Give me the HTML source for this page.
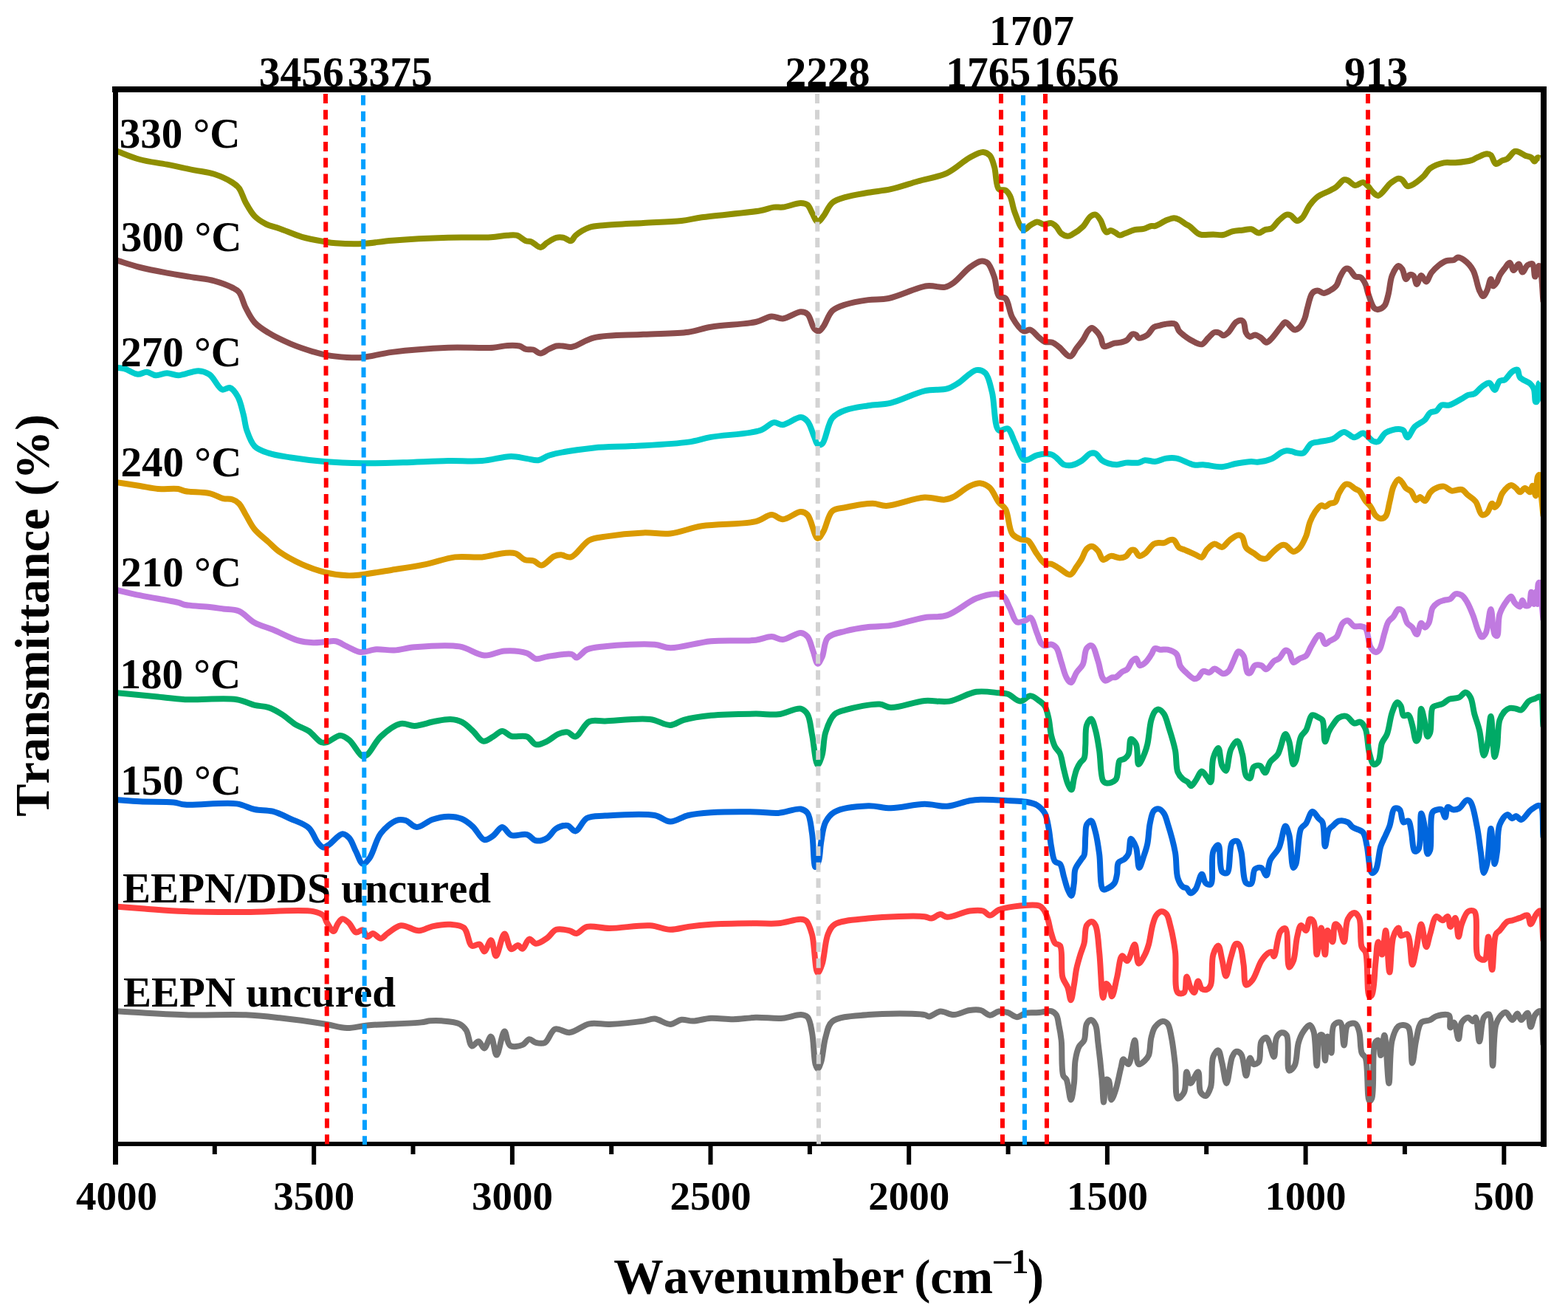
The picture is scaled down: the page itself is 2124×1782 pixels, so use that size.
<!DOCTYPE html>
<html><head><meta charset="utf-8"><title>FTIR spectra</title>
<style>html,body{margin:0;padding:0;background:#fff;}svg{display:block;}text{font-family:"Liberation Serif","Times New Roman",serif;font-weight:bold;fill:#000;font-kerning:none;}</style></head><body>
<svg width="2124" height="1782" viewBox="0 0 2124 1782">
<rect x="0" y="0" width="2124" height="1782" fill="#fff"/>
<g fill="none" stroke-width="8" stroke-linejoin="round" stroke-linecap="butt">
<path d="M156.0,203.8C167.2,207.9 178.0,212.9 189.6,216.0C201.4,219.2 213.8,220.3 226.0,222.7C238.2,225.1 251.4,228.0 262.8,230.3C272.6,232.3 281.5,233.0 290.2,235.8C298.7,238.6 308.6,243.2 314.6,247.0C318.6,249.5 321.0,251.2 323.7,254.7C327.4,259.5 329.4,268.2 332.9,274.5C336.5,280.9 340.2,287.9 345.0,292.8C349.4,297.3 354.8,300.6 360.3,303.4C365.9,306.2 371.8,307.1 378.6,309.5C387.5,312.6 398.7,317.8 409.0,320.8C419.1,323.7 431.0,325.7 439.5,327.2C445.4,328.2 448.6,328.8 454.8,329.3C464.4,330.0 479.0,330.6 491.4,330.0C504.4,329.4 515.6,326.9 531.0,325.7C552.3,324.0 583.6,322.4 607.2,321.7C627.8,321.1 650.1,322.1 664.9,321.2C674.2,320.6 681.0,319.1 687.4,318.7C692.2,318.4 695.9,317.6 699.9,318.7C704.2,319.9 708.6,324.8 712.4,326.2C715.1,327.2 717.2,326.4 719.9,327.4C723.6,328.8 728.6,335.0 732.3,334.9C735.5,334.8 737.8,330.7 741.1,328.7C744.8,326.4 749.5,322.8 753.6,321.8C757.0,320.9 760.3,321.1 763.5,321.8C766.9,322.5 770.7,326.8 773.5,326.2C776.1,325.6 776.9,321.2 779.8,318.7C784.1,315.1 791.7,310.3 798.3,308.0C804.9,305.7 810.9,305.9 819.6,305.0C833.1,303.7 854.1,302.9 871.4,301.9C888.7,300.9 908.7,300.5 923.2,298.9C933.8,297.7 939.1,295.9 950.7,294.3C970.3,291.5 1012.8,288.3 1029.9,285.2C1038.2,283.7 1042.7,281.3 1048.2,280.6C1052.6,280.1 1055.7,281.1 1060.4,280.6C1067.2,279.8 1078.6,275.0 1084.8,275.1C1088.6,275.2 1091.5,275.6 1093.9,277.5C1096.7,279.7 1097.8,284.5 1100.0,288.2C1102.4,292.2 1104.8,300.1 1107.6,300.4C1110.0,300.7 1112.6,296.1 1115.3,292.8C1119.1,288.2 1122.2,278.8 1127.5,274.5C1132.5,270.4 1138.7,269.0 1145.7,266.9C1154.4,264.2 1166.0,262.6 1176.2,260.8C1186.3,259.0 1196.2,258.5 1206.7,256.2C1218.4,253.6 1230.9,249.1 1243.3,245.5C1256.2,241.8 1271.0,239.9 1282.9,234.3C1294.2,229.0 1304.3,218.4 1313.4,213.5C1320.1,209.9 1326.7,205.7 1331.7,205.9C1335.3,206.0 1338.4,207.9 1340.8,210.5C1343.8,213.8 1345.1,219.7 1346.9,225.7C1349.4,234.0 1348.7,252.0 1353.0,256.2C1355.4,258.5 1359.6,256.2 1362.1,257.7C1364.7,259.2 1366.4,261.9 1368.2,265.3C1370.9,270.4 1371.5,279.5 1374.3,286.7C1377.4,294.7 1382.0,309.9 1386.5,311.1C1389.4,311.9 1392.6,306.8 1395.7,305.0C1398.7,303.3 1401.7,300.6 1404.8,300.4C1407.7,300.2 1410.6,303.5 1413.7,303.8C1417.0,304.1 1421.0,301.4 1424.0,302.1C1426.7,302.7 1428.8,304.8 1430.9,306.9C1433.4,309.4 1434.9,314.2 1437.7,316.3C1440.2,318.2 1443.6,319.7 1446.3,319.7C1448.7,319.7 1450.5,318.5 1453.1,317.1C1457.0,315.0 1462.9,310.9 1466.9,306.9C1470.9,302.9 1473.6,295.7 1477.1,293.1C1479.4,291.4 1481.9,290.1 1484.0,290.6C1486.5,291.2 1489.0,295.2 1490.9,298.3C1493.1,301.9 1494.2,308.3 1496.0,311.1C1497.1,312.8 1498.0,314.4 1499.4,314.6C1500.9,314.9 1502.8,312.0 1504.6,312.0C1506.7,312.0 1509.3,314.3 1511.4,315.4C1513.3,316.4 1514.7,318.3 1516.6,318.5C1518.7,318.7 1520.8,317.2 1523.4,316.3C1527.2,315.0 1532.6,312.2 1537.1,311.1C1541.2,310.1 1545.4,310.8 1549.2,309.9C1552.8,309.0 1556.5,306.5 1559.4,306.0C1561.4,305.6 1562.5,306.5 1564.6,306.0C1568.5,305.1 1575.3,300.2 1580.0,298.3C1583.7,296.8 1587.2,295.2 1590.3,295.2C1592.8,295.2 1594.9,296.3 1597.2,297.4C1600.0,298.7 1603.2,301.6 1605.7,303.1C1607.6,304.3 1608.9,304.6 1610.9,306.0C1614.2,308.3 1619.6,314.4 1622.9,316.3C1624.8,317.4 1625.8,317.7 1628.0,318.0C1631.7,318.5 1638.4,317.5 1643.4,317.5C1648.1,317.5 1652.8,318.7 1657.2,318.0C1661.4,317.3 1665.0,314.4 1669.2,313.4C1673.6,312.3 1678.5,312.2 1682.9,311.7C1687.0,311.2 1691.1,309.6 1694.9,310.3C1698.6,310.9 1701.9,315.4 1705.2,315.4C1708.2,315.4 1710.8,312.1 1713.7,311.1C1716.5,310.1 1719.5,310.9 1722.3,309.4C1725.9,307.4 1729.0,301.5 1732.6,298.3C1735.9,295.3 1739.9,291.3 1742.9,290.6C1744.8,290.1 1746.2,290.6 1748.0,291.4C1750.8,292.7 1754.2,298.9 1757.1,299.1C1759.5,299.3 1761.7,297.2 1764.0,294.9C1767.5,291.3 1770.6,282.6 1774.3,277.7C1777.5,273.4 1780.4,269.8 1784.6,266.6C1789.3,263.0 1797.0,260.6 1801.7,258.0C1805.1,256.1 1807.4,255.0 1810.3,252.9C1813.7,250.4 1817.6,244.3 1820.6,243.4C1822.4,242.9 1823.8,243.5 1825.7,244.3C1828.6,245.5 1832.5,250.8 1836.0,251.1C1839.3,251.4 1843.3,246.5 1846.3,246.9C1848.9,247.2 1850.9,249.9 1853.1,252.0C1855.5,254.4 1857.5,258.4 1860.0,260.6C1862.1,262.5 1864.2,265.2 1866.9,264.9C1871.5,264.4 1878.8,251.7 1884.0,247.7C1887.7,244.9 1891.4,242.0 1894.3,241.7C1896.2,241.5 1897.7,242.2 1899.4,243.4C1901.8,245.1 1903.9,251.1 1906.3,252.0C1907.9,252.6 1909.3,252.0 1911.4,251.1C1915.6,249.3 1924.0,242.6 1928.6,238.3C1932.2,234.9 1933.3,230.8 1937.2,228.0C1942.0,224.5 1949.9,221.5 1956.0,220.3C1961.3,219.3 1965.8,220.7 1971.4,220.3C1978.2,219.8 1988.5,218.6 1993.7,216.9C1996.8,215.9 1997.9,214.6 2000.6,213.4C2004.4,211.8 2010.8,208.4 2014.3,208.3C2016.4,208.3 2017.9,208.7 2019.5,210.0C2022.1,212.1 2023.4,221.2 2026.3,222.0C2028.7,222.7 2032.2,218.6 2034.9,217.4C2037.3,216.4 2039.4,216.5 2041.7,215.1C2045.0,213.1 2048.9,205.9 2052.0,204.9C2053.9,204.3 2055.3,205.0 2057.2,205.7C2059.8,206.6 2062.8,209.2 2065.7,210.5C2068.5,211.7 2072.1,211.9 2074.3,213.4C2076.2,214.7 2077.2,218.6 2078.6,218.6C2080.0,218.6 2081.4,213.9 2082.9,213.4C2084.0,213.0 2085.2,214.0 2086.3,214.3" stroke="#8f8f00"/>
<path d="M156.1,351.9C167.3,355.3 178.1,359.1 189.6,362.0C201.5,365.0 214.0,367.3 226.2,369.6C238.4,371.9 251.5,373.8 262.8,375.7C272.6,377.3 281.4,378.0 290.2,380.3C298.7,382.6 308.6,386.3 314.6,389.4C318.5,391.4 321.0,392.3 323.7,395.5C327.6,400.2 329.3,410.0 332.9,416.9C336.4,423.8 339.9,431.1 345.0,436.7C350.1,442.3 356.2,446.0 363.3,450.4C372.0,455.7 383.5,461.2 393.8,465.6C403.8,469.8 415.4,473.6 424.3,476.3C431.1,478.3 435.8,479.7 442.6,480.9C450.8,482.4 461.4,483.4 470.0,483.9C477.6,484.3 483.2,484.6 491.4,483.9C502.6,482.9 515.6,478.9 531.0,476.9C552.2,474.2 583.2,471.8 607.2,470.8C628.6,469.9 653.5,471.9 668.1,470.8C676.4,470.2 681.2,468.2 687.4,467.9C693.0,467.6 699.1,467.4 703.6,468.5C707.1,469.4 709.3,472.1 712.4,472.9C715.5,473.7 719.1,472.6 722.3,473.5C725.7,474.4 728.9,478.5 732.3,478.5C735.8,478.5 739.4,474.7 743.0,473.0C746.5,471.4 750.2,469.2 753.6,468.5C756.6,467.9 759.1,468.3 762.3,468.5C766.1,468.7 769.9,470.5 774.8,469.8C782.7,468.6 792.3,460.3 804.4,457.4C822.0,453.2 849.6,454.1 871.4,452.8C892.2,451.6 915.6,452.0 932.4,449.7C944.4,448.0 950.9,444.7 962.9,442.7C979.7,439.9 1008.8,439.4 1023.8,436.0C1032.9,433.9 1038.6,428.9 1045.2,428.4C1050.6,428.0 1054.8,431.9 1060.4,431.4C1067.7,430.8 1078.6,422.4 1084.8,422.3C1088.6,422.2 1091.3,423.0 1093.9,425.4C1097.9,429.0 1099.7,441.7 1103.1,445.2C1105.0,447.2 1107.3,448.5 1109.2,448.2C1111.4,447.8 1113.1,444.9 1115.3,442.1C1119.0,437.3 1122.1,425.8 1127.5,420.8C1132.4,416.2 1138.7,414.5 1145.7,412.2C1154.4,409.3 1166.3,407.5 1176.2,406.1C1185.6,404.8 1193.2,406.1 1203.7,404.0C1218.4,401.1 1241.3,389.1 1255.5,387.3C1265.0,386.1 1273.2,390.1 1279.8,388.8C1284.7,387.8 1287.6,385.8 1292.0,382.7C1298.5,378.2 1306.6,367.4 1313.4,362.3C1318.6,358.4 1324.1,354.3 1328.6,353.7C1332.0,353.3 1335.1,354.0 1337.8,356.2C1341.7,359.5 1344.4,368.2 1346.9,375.1C1349.7,382.9 1349.1,396.7 1353.0,401.0C1355.4,403.6 1359.5,401.5 1362.1,404.0C1366.5,408.3 1367.0,422.3 1371.3,429.9C1375.3,436.9 1381.5,446.3 1386.5,448.2C1389.6,449.4 1392.6,445.8 1395.7,446.7C1399.7,447.9 1404.2,454.5 1407.8,457.4C1410.6,459.6 1412.5,461.8 1415.4,462.9C1418.4,464.0 1422.6,462.6 1425.7,463.7C1428.9,464.8 1431.1,467.2 1434.3,469.7C1438.8,473.1 1445.5,483.1 1449.7,482.6C1453.2,482.2 1455.4,475.1 1458.3,471.4C1461.2,467.7 1464.3,464.2 1466.9,460.3C1469.5,456.5 1471.3,451.2 1473.7,448.3C1475.4,446.3 1477.0,444.0 1478.9,444.0C1481.0,444.0 1483.7,447.0 1485.7,449.1C1487.8,451.3 1489.4,453.9 1490.9,456.9C1492.6,460.4 1492.8,467.5 1495.1,468.9C1496.7,469.9 1499.0,468.6 1501.1,468.0C1503.7,467.3 1506.8,465.3 1509.7,464.6C1512.5,463.9 1515.5,464.4 1518.3,463.7C1521.2,463.0 1524.4,462.1 1526.9,460.3C1529.6,458.4 1531.3,453.5 1533.7,452.6C1535.4,452.0 1537.5,452.6 1538.9,453.4C1540.4,454.2 1540.6,457.2 1542.3,457.7C1544.9,458.5 1550.9,455.8 1554.3,453.4C1557.8,451.0 1559.7,445.2 1562.9,443.1C1565.5,441.4 1568.7,441.3 1571.4,440.6C1573.8,439.9 1575.6,439.2 1578.3,438.9C1582.1,438.4 1588.8,437.0 1592.0,438.9C1594.8,440.6 1595.1,445.7 1597.2,448.3C1599.1,450.7 1601.4,452.3 1604.0,454.3C1607.0,456.6 1610.5,459.2 1614.3,461.1C1618.4,463.2 1624.2,467.1 1628.0,466.3C1631.5,465.6 1633.7,460.4 1636.6,457.7C1639.4,455.0 1642.3,450.9 1645.2,450.0C1647.4,449.3 1650.0,450.1 1652.0,450.9C1653.9,451.6 1655.3,454.3 1657.2,454.3C1659.3,454.3 1661.7,452.1 1664.0,450.0C1667.4,446.9 1670.8,438.9 1674.3,436.3C1676.6,434.6 1679.4,433.4 1681.2,433.7C1682.6,433.9 1683.7,434.8 1684.6,436.3C1686.4,439.1 1686.1,447.5 1688.0,450.9C1689.3,453.3 1691.2,455.6 1693.2,456.0C1695.2,456.4 1697.6,453.3 1700.0,453.4C1702.7,453.5 1706.0,455.9 1708.6,457.7C1711.1,459.4 1713.1,463.6 1715.4,463.7C1717.7,463.8 1719.8,461.0 1722.3,458.6C1726.3,454.7 1732.4,445.4 1736.0,441.4C1738.1,439.1 1739.0,436.4 1741.2,436.3C1744.4,436.2 1750.0,446.2 1753.7,446.6C1756.2,446.9 1758.6,445.0 1760.6,443.1C1763.3,440.5 1765.7,435.4 1767.4,431.1C1769.1,426.8 1769.4,422.4 1770.9,417.4C1772.7,411.2 1774.4,400.7 1777.7,396.9C1779.6,394.6 1782.2,393.5 1784.6,393.4C1787.3,393.3 1790.3,396.9 1793.1,396.9C1796.0,396.9 1798.9,395.0 1801.7,393.4C1804.7,391.7 1808.1,389.5 1810.3,386.6C1812.7,383.4 1813.4,378.4 1815.4,374.6C1817.4,370.9 1819.8,365.6 1822.3,364.3C1823.9,363.4 1825.7,363.5 1827.4,364.3C1830.2,365.6 1832.9,372.9 1836.0,374.6C1838.2,375.8 1840.8,374.2 1842.9,375.4C1845.6,377.0 1848.0,381.4 1849.7,384.9C1851.4,388.5 1851.5,392.4 1853.1,396.9C1855.2,402.9 1858.4,414.4 1861.7,417.4C1863.3,418.9 1865.0,419.3 1866.9,419.1C1869.4,418.8 1873.2,416.7 1875.4,414.0C1878.2,410.5 1879.0,404.4 1880.6,398.6C1882.6,391.2 1882.9,379.8 1885.7,372.9C1887.9,367.6 1891.6,360.4 1894.3,360.0C1896.1,359.7 1897.9,362.2 1899.4,364.3C1901.6,367.4 1902.5,377.6 1904.6,378.0C1906.1,378.3 1907.8,372.5 1909.7,372.0C1911.3,371.6 1913.5,372.3 1914.9,373.7C1917.0,375.7 1917.5,384.8 1919.2,384.9C1921.0,385.0 1922.9,373.1 1925.2,372.9C1927.2,372.7 1929.8,381.6 1932.0,381.4C1934.4,381.2 1936.1,373.1 1938.9,369.4C1941.8,365.6 1945.6,361.9 1949.2,359.1C1952.5,356.6 1955.9,354.3 1959.4,353.1C1962.7,352.0 1966.9,352.9 1969.7,351.9C1971.8,351.1 1972.9,348.7 1974.9,348.5C1977.3,348.3 1980.6,350.2 1983.4,352.3C1987.4,355.2 1992.2,360.2 1995.4,366.0C1999.5,373.2 2001.0,387.2 2004.0,393.4C2005.7,396.9 2007.5,401.1 2009.2,401.1C2010.9,401.1 2012.8,396.5 2014.3,393.4C2016.3,389.3 2017.9,378.0 2019.5,378.0C2020.7,378.0 2021.4,387.1 2022.9,387.4C2024.3,387.6 2026.6,383.7 2028.0,381.4C2029.5,378.9 2029.8,375.7 2031.4,372.9C2033.2,369.7 2035.9,366.3 2038.3,363.4C2040.5,360.6 2043.2,355.4 2045.2,355.7C2047.3,356.0 2048.3,365.8 2050.3,366.0C2052.3,366.2 2055.2,357.2 2057.2,357.4C2059.3,357.7 2060.3,368.4 2062.3,368.6C2064.3,368.8 2066.5,360.9 2069.2,359.1C2071.3,357.7 2074.3,356.3 2076.0,357.4C2078.6,359.1 2077.9,374.5 2079.4,374.6C2080.8,374.7 2083.1,360.3 2084.6,360.0C2085.2,359.9 2085.8,360.8 2086.3,362.0C2088.5,367.3 2089.1,393.3 2090.5,409.0" stroke="#8b4c4c"/>
<path d="M156.1,497.6C160.2,498.1 163.9,498.0 168.3,499.2C173.9,500.7 181.1,506.4 186.6,506.8C191.0,507.1 194.8,503.5 198.8,503.7C202.9,503.9 206.7,508.0 211.0,508.3C215.7,508.7 221.1,505.2 226.2,505.2C231.3,505.2 235.6,508.3 241.4,508.3C249.2,508.2 261.1,501.8 268.9,502.2C274.8,502.5 279.3,504.1 284.1,507.4C290.2,511.6 295.4,525.6 300.9,527.5C304.5,528.7 308.2,524.0 311.5,525.1C315.5,526.4 319.3,532.1 322.2,537.2C325.8,543.6 327.7,553.7 329.8,561.6C331.7,568.9 332.0,576.0 334.4,583.0C336.9,590.3 339.9,599.2 345.0,604.3C349.7,609.0 356.2,611.0 363.3,613.4C372.0,616.4 382.6,617.7 393.8,619.5C407.5,621.7 423.8,623.7 439.5,625.0C456.2,626.4 473.9,627.0 491.4,627.2C509.4,627.4 527.4,626.8 546.2,626.3C566.0,625.8 588.3,624.4 607.2,624.1C623.5,623.8 638.3,625.2 652.9,624.1C666.6,623.0 681.3,618.1 692.5,618.0C700.7,618.0 707.4,620.2 713.9,621.1C719.4,621.9 724.1,623.9 729.1,623.2C734.3,622.5 737.4,618.6 744.3,616.5C757.5,612.5 785.1,608.6 804.4,606.5C822.2,604.6 837.3,605.2 856.2,604.1C879.2,602.7 912.8,601.4 932.4,598.6C944.9,596.8 950.7,594.1 962.9,591.9C980.8,588.7 1014.9,588.0 1029.9,582.8C1038.3,579.9 1042.6,572.9 1048.2,572.1C1052.5,571.5 1055.7,575.5 1060.4,575.2C1067.2,574.7 1078.7,564.6 1084.8,565.1C1088.7,565.4 1091.3,567.6 1093.9,570.6C1097.8,575.1 1100.5,586.2 1103.1,591.9C1104.8,595.8 1105.4,600.4 1107.6,601.7C1109.2,602.6 1111.7,602.6 1113.7,601.1C1118.6,597.4 1120.9,573.7 1127.5,566.0C1132.4,560.2 1138.6,558.0 1145.7,555.3C1154.3,552.0 1166.0,550.8 1176.2,549.2C1186.3,547.6 1195.7,548.2 1206.7,545.6C1220.6,542.4 1238.5,532.5 1252.4,529.4C1263.4,526.9 1274.7,528.8 1282.9,526.4C1289.0,524.6 1292.6,522.1 1298.1,518.8C1305.4,514.3 1315.5,502.2 1322.5,501.1C1327.1,500.4 1331.4,501.9 1334.7,505.1C1339.5,509.8 1341.1,520.8 1343.8,531.0C1347.5,545.2 1346.4,578.3 1353.0,582.8C1356.2,585.0 1361.9,578.7 1365.2,580.3C1369.4,582.3 1371.1,591.6 1374.3,598.0C1378.1,605.5 1382.3,619.8 1386.5,622.4C1388.5,623.6 1390.3,622.9 1392.6,622.4C1396.1,621.6 1400.1,617.5 1404.8,616.3C1410.3,614.9 1419.3,614.2 1424.0,615.4C1427.0,616.2 1428.5,617.8 1430.9,619.7C1434.1,622.1 1437.4,627.6 1441.1,629.2C1444.3,630.6 1447.8,630.6 1451.4,630.0C1455.7,629.3 1460.9,626.6 1465.1,624.0C1469.4,621.3 1473.4,615.4 1477.1,614.1C1479.5,613.2 1481.8,613.1 1484.0,614.1C1487.0,615.4 1489.5,620.9 1492.6,623.2C1495.3,625.2 1497.9,626.4 1501.1,627.4C1504.7,628.5 1509.1,629.3 1513.1,629.2C1517.1,629.1 1520.7,627.1 1525.1,626.6C1530.3,626.0 1537.6,627.5 1542.3,626.6C1545.7,625.9 1547.6,623.6 1550.9,623.2C1554.9,622.7 1559.9,625.2 1564.6,624.9C1569.6,624.5 1575.0,621.3 1580.0,620.6C1584.7,620.0 1588.6,619.7 1593.7,620.6C1600.7,621.9 1611.0,628.4 1617.7,629.5C1622.3,630.3 1625.0,629.0 1629.7,629.2C1636.7,629.5 1647.5,632.6 1655.4,632.2C1662.2,631.8 1667.8,629.0 1674.3,627.8C1681.0,626.6 1689.5,625.0 1694.9,624.9C1698.3,624.8 1700.0,625.9 1703.4,625.7C1708.5,625.4 1716.7,623.8 1722.3,621.4C1727.5,619.2 1732.1,614.2 1736.0,612.4C1738.6,611.2 1740.6,610.5 1742.9,610.3C1745.2,610.1 1747.4,610.6 1749.7,611.1C1752.1,611.6 1754.5,613.0 1757.1,613.4C1759.8,613.8 1763.0,614.7 1765.7,613.4C1769.4,611.6 1772.1,603.4 1776.0,600.9C1779.1,598.9 1782.3,599.2 1786.3,598.3C1791.6,597.1 1799.3,596.8 1805.1,594.5C1810.7,592.3 1815.6,585.0 1820.6,584.9C1825.3,584.8 1829.9,592.2 1834.3,592.3C1838.4,592.4 1842.9,586.3 1846.3,586.6C1849.0,586.8 1850.9,589.6 1853.1,591.4C1855.4,593.2 1857.5,596.4 1860.0,597.4C1862.2,598.3 1864.6,598.9 1866.9,597.9C1870.3,596.5 1872.7,588.7 1877.1,585.9C1881.7,582.9 1889.9,581.1 1894.3,581.1C1897.1,581.1 1899.2,581.4 1901.1,582.9C1903.4,584.7 1904.2,592.2 1906.3,592.3C1909.1,592.5 1912.5,581.7 1916.6,577.7C1920.6,573.8 1926.7,571.8 1930.3,568.3C1933.3,565.4 1934.4,560.9 1937.2,558.9C1939.6,557.2 1943.2,557.9 1945.7,556.3C1948.4,554.6 1949.7,549.9 1952.6,548.6C1955.5,547.3 1959.2,549.5 1962.9,548.6C1968.0,547.4 1975.3,542.6 1980.0,540.0C1983.4,538.1 1985.6,536.1 1988.6,534.9C1991.4,533.8 1994.4,534.5 1997.2,533.1C2000.7,531.3 2003.8,526.2 2007.4,523.7C2010.7,521.5 2014.8,517.9 2017.7,518.6C2020.6,519.3 2022.4,528.1 2024.6,528.0C2027.0,527.9 2028.6,518.1 2031.4,516.0C2033.4,514.5 2036.0,515.7 2038.3,514.3C2041.7,512.3 2045.3,505.3 2048.6,503.1C2050.9,501.6 2053.7,499.8 2055.4,500.6C2057.5,501.6 2056.6,508.0 2058.9,510.9C2061.7,514.5 2069.3,516.4 2072.6,519.4C2075.0,521.6 2076.4,523.3 2077.7,526.3C2079.5,530.7 2078.7,543.8 2080.3,544.3C2081.0,544.5 2082.2,543.2 2082.9,541.7C2084.6,538.0 2083.2,522.5 2084.6,519.4C2085.1,518.4 2085.7,518.3 2086.3,517.7" stroke="#00cccc"/>
<path d="M156.1,652.9C167.3,654.6 179.3,656.4 189.6,658.0C198.4,659.4 205.6,661.3 214.0,662.0C222.8,662.7 234.8,660.9 241.4,662.0C245.3,662.6 246.5,664.2 250.6,665.0C258.2,666.6 274.7,665.9 284.1,668.1C291.2,669.8 296.8,673.8 302.4,675.1C306.8,676.1 311.0,675.1 314.6,676.3C318.0,677.4 321.0,679.1 323.7,681.8C327.2,685.3 329.6,691.6 332.9,697.0C336.7,703.2 340.0,710.9 345.0,716.9C350.1,723.1 357.5,728.3 363.3,733.6C368.6,738.4 372.3,742.8 378.6,747.3C386.8,753.1 398.7,759.5 409.0,764.1C419.0,768.6 429.2,772.3 439.5,774.8C449.5,777.3 461.6,778.8 470.0,779.3C476.0,779.6 478.9,779.3 485.3,778.7C496.5,777.6 515.8,774.1 531.0,771.7C546.2,769.3 562.1,767.1 576.7,764.1C590.4,761.3 603.3,756.0 616.3,754.4C628.6,752.9 641.3,755.4 652.9,754.4C663.6,753.4 675.0,749.5 683.4,748.9C689.3,748.5 694.0,748.0 698.6,749.5C703.1,751.0 706.5,756.4 710.8,758.0C714.7,759.5 719.2,758.2 723.0,759.5C726.8,760.8 729.8,765.8 733.7,765.6C738.7,765.3 745.4,755.7 750.4,753.4C753.7,751.9 756.2,751.3 759.6,751.3C763.7,751.3 768.4,755.7 773.3,754.4C780.9,752.4 789.7,736.0 798.3,731.5C805.2,727.9 810.9,728.0 819.6,726.6C833.0,724.4 855.6,722.0 871.4,721.4C884.6,720.9 895.4,723.7 908.0,722.4C921.8,721.0 934.5,714.9 950.7,712.3C971.7,709.0 1006.9,710.4 1023.8,706.2C1033.3,703.8 1038.7,697.2 1045.2,697.1C1050.7,697.0 1054.7,703.2 1060.4,703.2C1067.6,703.2 1078.6,693.0 1084.8,693.1C1088.6,693.1 1091.1,694.2 1093.9,697.1C1099.2,702.4 1103.2,728.4 1107.6,729.1C1110.2,729.5 1112.7,724.0 1115.3,719.9C1119.4,713.3 1121.4,697.2 1127.5,691.9C1132.3,687.8 1138.5,688.5 1145.7,687.0C1155.7,684.9 1172.2,681.7 1182.3,681.8C1189.5,681.9 1193.0,685.1 1200.6,684.9C1213.5,684.6 1237.8,674.4 1252.4,673.6C1262.9,673.0 1272.6,677.3 1279.8,676.6C1284.7,676.1 1287.5,674.9 1292.0,672.7C1298.3,669.6 1306.6,661.4 1313.4,658.4C1318.7,656.0 1323.9,653.9 1328.6,654.4C1333.0,654.9 1337.1,657.2 1340.8,660.5C1345.6,664.9 1348.9,675.1 1353.0,680.3C1356.0,684.1 1359.5,684.9 1362.1,689.4C1366.4,696.7 1366.2,716.2 1371.3,723.0C1374.5,727.4 1379.6,729.1 1383.5,730.6C1386.6,731.8 1389.7,730.2 1392.6,732.1C1397.0,735.0 1400.7,745.0 1404.8,750.4C1408.3,755.1 1411.6,761.2 1415.4,763.1C1418.1,764.5 1421.1,762.9 1424.0,763.7C1427.4,764.7 1430.5,767.1 1434.3,769.2C1438.9,771.8 1445.6,778.9 1449.7,778.1C1453.3,777.4 1455.7,771.0 1458.3,767.4C1460.8,764.0 1462.9,760.8 1465.1,757.1C1467.5,752.9 1469.2,746.3 1472.0,743.4C1474.0,741.3 1476.5,739.5 1478.9,739.7C1481.6,739.9 1485.0,743.2 1487.4,746.0C1490.2,749.1 1491.2,757.1 1494.3,758.0C1497.1,758.8 1501.0,753.4 1504.6,752.9C1508.4,752.4 1512.9,755.4 1516.6,755.4C1519.7,755.4 1522.6,754.9 1525.1,753.4C1527.8,751.7 1529.6,746.2 1532.0,745.1C1533.7,744.3 1535.5,744.3 1537.1,745.1C1539.3,746.2 1540.8,752.3 1543.2,752.9C1545.4,753.4 1548.2,751.3 1550.9,749.4C1554.7,746.7 1559.2,738.8 1562.9,736.6C1565.3,735.2 1567.4,735.1 1569.7,734.9C1572.0,734.7 1574.2,735.7 1576.6,735.2C1579.4,734.6 1582.6,731.6 1585.2,731.1C1587.1,730.7 1588.7,730.5 1590.3,731.4C1592.8,732.8 1594.5,739.6 1597.2,741.7C1599.2,743.3 1601.3,743.2 1604.0,744.3C1608.1,746.0 1615.0,749.2 1619.4,751.1C1622.7,752.5 1625.5,755.4 1628.0,754.6C1630.8,753.7 1632.1,747.3 1634.9,744.3C1637.8,741.3 1641.6,737.0 1645.2,736.6C1648.5,736.2 1652.2,741.5 1655.4,740.9C1659.0,740.3 1662.0,734.1 1665.7,731.4C1669.4,728.7 1674.5,724.7 1677.7,724.6C1679.8,724.5 1681.4,725.5 1682.9,727.1C1685.3,729.8 1685.1,737.8 1688.0,741.7C1690.8,745.5 1696.6,747.8 1700.0,750.3C1702.6,752.2 1704.3,754.4 1706.9,755.4C1709.5,756.4 1712.9,757.2 1715.4,756.3C1718.1,755.4 1719.5,751.9 1722.3,749.4C1726.0,746.0 1732.3,739.6 1736.0,738.3C1738.0,737.6 1739.3,737.6 1741.2,738.3C1744.3,739.4 1748.5,746.7 1752.0,746.9C1755.0,747.1 1758.0,744.4 1760.6,741.7C1764.0,738.2 1766.8,731.8 1769.1,726.3C1771.5,720.5 1772.1,713.1 1774.3,707.4C1776.2,702.4 1778.4,697.7 1781.1,693.7C1783.6,690.1 1787.0,685.0 1789.7,684.3C1791.5,683.8 1793.1,686.2 1794.9,686.0C1797.1,685.7 1799.3,682.7 1801.7,681.7C1803.9,680.8 1806.7,681.6 1808.6,680.0C1811.1,677.9 1811.5,671.9 1813.7,668.0C1816.0,663.9 1819.4,657.5 1822.3,656.0C1824.0,655.1 1825.6,655.4 1827.4,656.0C1830.0,656.8 1833.5,660.5 1836.0,662.0C1837.9,663.1 1839.4,663.0 1841.1,664.6C1844.0,667.2 1846.8,674.5 1849.7,678.3C1852.0,681.3 1854.5,683.0 1856.6,686.0C1859.1,689.4 1860.7,695.2 1863.4,698.0C1865.5,700.1 1868.0,702.2 1870.3,702.3C1872.5,702.4 1875.3,701.1 1877.1,698.9C1880.0,695.4 1880.6,686.4 1882.3,680.0C1884.1,673.3 1885.0,664.9 1887.4,659.4C1889.3,655.2 1892.0,649.4 1894.3,649.1C1896.0,648.9 1897.8,651.6 1899.4,653.4C1901.3,655.5 1902.5,659.1 1904.6,661.1C1906.6,663.0 1909.4,663.3 1911.4,665.4C1914.1,668.2 1915.9,677.0 1918.3,677.4C1920.0,677.7 1921.5,673.2 1923.4,673.1C1925.5,673.0 1928.2,678.7 1930.3,678.3C1932.9,677.8 1934.9,669.9 1937.2,667.1C1938.9,665.1 1940.0,663.8 1942.3,662.5C1945.6,660.7 1951.9,658.1 1956.0,658.6C1959.8,659.1 1962.5,663.8 1966.3,664.6C1970.4,665.4 1976.2,661.7 1980.0,662.9C1983.5,664.0 1985.6,668.0 1988.6,670.6C1991.9,673.4 1996.0,675.3 1998.9,679.1C2002.5,683.7 2004.0,695.7 2007.4,697.1C2009.5,698.0 2012.3,696.4 2014.3,694.6C2017.2,692.1 2019.2,681.8 2021.2,681.7C2022.5,681.6 2023.3,686.8 2024.6,686.9C2026.1,687.0 2028.2,684.0 2029.7,681.7C2031.8,678.4 2032.2,672.0 2034.9,668.0C2037.8,663.7 2043.3,657.2 2046.9,656.9C2049.4,656.7 2051.7,659.5 2053.7,661.1C2055.6,662.6 2057.0,666.2 2058.9,666.3C2061.0,666.4 2063.4,661.1 2065.7,661.1C2068.0,661.1 2070.9,666.8 2072.6,666.3C2074.4,665.8 2074.9,657.7 2076.0,657.7C2077.4,657.8 2079.2,671.5 2080.3,671.4C2081.8,671.2 2081.0,649.7 2082.9,645.7C2083.6,644.2 2084.8,642.9 2085.4,643.1C2086.5,643.5 2085.9,649.8 2086.3,655.0C2087.2,665.0 2089.1,684.3 2090.5,699.0" stroke="#da9a00"/>
<path d="M156.1,798.5C167.3,801.1 178.2,803.8 189.6,806.2C201.5,808.7 216.6,811.1 226.2,812.9C232.4,814.1 237.0,814.7 241.4,815.9C244.9,816.8 246.5,818.1 250.6,819.0C258.2,820.6 274.6,820.9 284.1,822.0C291.1,822.8 296.1,823.6 302.4,824.5C309.2,825.4 316.9,824.7 323.7,827.5C331.2,830.6 337.3,839.1 345.0,843.3C352.6,847.4 360.7,849.0 369.4,852.5C379.8,856.7 392.9,864.2 403.0,867.1C410.7,869.3 417.8,869.9 424.3,870.2C429.8,870.4 434.4,869.6 439.5,869.3C444.6,869.0 449.8,867.4 454.8,868.3C460.0,869.3 464.7,873.0 470.0,875.3C475.8,877.9 481.9,882.3 488.3,883.0C495.0,883.8 502.2,879.8 509.6,879.3C517.4,878.8 525.6,880.9 534.0,880.5C542.9,880.0 550.5,877.2 561.5,876.3C577.8,874.9 605.3,872.5 622.4,875.4C635.5,877.6 645.3,886.8 656.0,887.5C665.5,888.1 674.0,882.0 683.4,881.4C693.2,880.8 706.3,881.9 713.9,884.5C719.1,886.3 721.6,891.3 726.0,892.1C730.6,893.0 735.2,890.0 741.3,889.1C750.3,887.8 768.3,884.2 774.8,886.0C777.9,886.9 778.4,890.6 780.9,890.6C784.7,890.6 789.4,882.1 795.2,879.5C802.0,876.5 809.4,876.3 819.6,875.2C836.4,873.4 870.6,871.4 886.7,872.8C895.8,873.6 899.2,877.1 908.0,877.3C922.0,877.6 944.1,870.0 962.9,868.2C982.6,866.3 1008.8,868.5 1023.8,866.7C1032.8,865.6 1038.7,862.0 1045.2,862.1C1050.7,862.2 1054.8,866.4 1060.4,866.1C1067.6,865.7 1078.7,856.4 1084.8,856.9C1088.7,857.2 1091.4,859.2 1093.9,862.1C1097.5,866.3 1099.1,875.6 1101.5,881.9C1103.7,887.7 1105.3,898.4 1107.6,898.7C1109.4,898.9 1111.8,893.5 1113.7,889.5C1116.6,883.2 1116.0,869.4 1121.4,863.6C1126.7,857.9 1137.0,856.9 1145.7,854.5C1155.2,851.9 1166.0,850.3 1176.2,849.0C1186.3,847.7 1195.6,848.6 1206.7,846.9C1220.5,844.8 1238.6,838.5 1252.4,836.2C1263.5,834.3 1272.4,836.5 1282.9,833.1C1295.7,829.0 1310.2,815.1 1322.5,810.3C1332.2,806.5 1343.3,803.9 1350.0,804.2C1353.9,804.4 1356.4,805.0 1359.1,807.2C1362.9,810.3 1365.2,818.3 1368.2,824.0C1371.3,829.9 1373.1,840.2 1377.4,842.3C1380.7,843.9 1386.3,841.2 1389.6,839.9C1392.1,838.9 1393.8,835.6 1395.7,836.2C1399.1,837.3 1402.2,851.2 1404.8,857.5C1406.9,862.5 1408.0,868.2 1410.3,871.1C1411.8,873.0 1413.4,874.2 1415.4,874.6C1417.8,875.0 1421.4,872.0 1424.0,872.5C1426.5,872.9 1428.9,874.6 1430.9,877.1C1434.0,881.1 1435.4,890.2 1437.7,896.9C1440.0,903.7 1441.8,912.6 1444.6,917.4C1446.4,920.5 1448.6,924.5 1450.6,924.3C1453.2,924.0 1455.5,914.8 1458.3,910.6C1461.0,906.6 1464.7,904.0 1466.9,899.4C1469.6,893.6 1469.0,882.0 1472.0,878.0C1473.8,875.6 1476.8,873.5 1478.9,874.2C1482.4,875.4 1485.0,887.9 1487.4,895.1C1489.8,902.3 1490.9,913.0 1493.4,917.4C1494.7,919.6 1495.9,921.4 1497.7,921.7C1500.0,922.1 1503.7,918.1 1506.3,917.4C1508.2,916.9 1509.6,917.8 1511.4,917.1C1514.1,916.0 1517.2,911.6 1520.0,909.7C1522.3,908.2 1524.8,908.2 1526.9,906.3C1529.6,903.8 1531.3,897.6 1533.7,895.1C1535.4,893.4 1537.4,891.3 1538.9,891.7C1540.9,892.2 1541.8,900.4 1544.0,901.1C1545.9,901.7 1548.7,899.5 1550.9,897.7C1553.9,895.2 1557.0,890.1 1559.4,886.6C1561.4,883.6 1562.3,878.9 1564.6,878.0C1566.5,877.2 1568.9,879.4 1571.4,879.7C1574.5,880.1 1578.2,878.9 1581.7,879.7C1585.7,880.6 1590.9,882.4 1593.7,885.7C1596.9,889.4 1596.5,897.8 1598.9,902.0C1600.8,905.3 1603.0,907.1 1605.7,909.7C1609.0,912.8 1614.4,918.6 1617.7,919.2C1619.7,919.5 1621.2,918.6 1622.9,917.4C1625.3,915.7 1626.9,909.9 1629.7,908.9C1632.2,908.0 1635.7,911.2 1638.3,910.6C1640.9,910.0 1642.5,905.6 1645.2,905.4C1648.6,905.2 1653.7,912.2 1657.2,912.3C1659.8,912.4 1662.0,910.9 1664.0,908.9C1666.8,906.1 1668.6,899.6 1670.9,895.1C1673.1,890.7 1675.1,882.8 1677.7,882.3C1679.8,881.9 1682.8,885.3 1684.6,888.3C1687.5,893.1 1687.1,908.0 1689.7,910.6C1690.7,911.6 1692.0,911.9 1693.2,911.4C1695.4,910.5 1697.1,902.7 1700.0,901.1C1702.4,899.8 1706.0,900.2 1708.6,901.1C1711.2,902.0 1713.0,906.5 1715.4,906.3C1718.6,906.0 1722.4,897.6 1725.7,895.1C1728.1,893.3 1730.4,893.5 1732.6,891.7C1735.6,889.2 1738.5,881.2 1741.2,880.6C1742.9,880.2 1744.8,881.5 1746.3,883.1C1748.7,885.7 1749.2,896.0 1752.0,896.9C1754.3,897.6 1757.7,893.2 1760.6,891.7C1763.4,890.3 1766.7,890.2 1769.1,888.0C1772.1,885.3 1773.4,879.7 1776.0,875.4C1779.0,870.5 1783.4,861.1 1786.3,860.0C1787.5,859.5 1788.6,860.0 1789.7,860.9C1791.7,862.6 1792.6,871.3 1794.9,872.0C1796.8,872.5 1799.3,869.2 1801.7,867.7C1804.4,866.1 1807.8,865.4 1810.3,862.6C1813.9,858.6 1815.5,847.2 1818.9,843.7C1821.0,841.6 1823.4,840.0 1825.7,840.3C1828.5,840.7 1831.2,846.8 1834.3,848.0C1837.0,849.0 1840.2,847.5 1842.9,848.0C1845.3,848.5 1847.8,848.5 1849.7,850.6C1853.3,854.6 1853.4,870.7 1856.6,876.3C1858.5,879.6 1861.2,882.9 1863.4,883.1C1865.2,883.3 1867.1,881.8 1868.6,879.7C1871.6,875.7 1873.2,864.1 1875.4,857.4C1877.2,851.8 1878.2,845.9 1880.6,842.0C1882.5,839.0 1885.2,837.7 1887.4,835.1C1889.8,832.1 1891.8,825.7 1894.3,824.9C1895.9,824.3 1897.9,825.2 1899.4,826.6C1902.3,829.3 1903.5,839.7 1906.3,843.7C1908.3,846.5 1911.0,847.3 1913.1,849.7C1915.4,852.4 1917.3,859.3 1919.2,859.1C1921.5,858.9 1922.9,844.1 1925.2,843.7C1926.8,843.4 1928.6,849.7 1930.3,849.7C1932.0,849.7 1933.9,846.5 1935.4,843.7C1937.8,839.1 1937.9,827.9 1940.6,823.1C1942.4,819.9 1944.8,818.0 1947.4,816.3C1949.9,814.6 1953.1,813.8 1956.0,812.9C1958.8,812.1 1962.1,812.5 1964.6,811.1C1967.2,809.7 1968.8,805.1 1971.4,804.3C1973.9,803.5 1977.5,804.5 1980.0,806.0C1982.8,807.7 1984.7,811.0 1986.9,814.6C1989.9,819.5 1992.9,826.9 1995.4,833.4C1998.0,840.0 1999.9,848.7 2002.3,854.0C2003.9,857.6 2005.5,862.4 2007.4,862.6C2009.0,862.8 2011.1,860.2 2012.6,857.4C2015.8,851.4 2017.5,824.8 2019.5,824.9C2021.5,825.0 2021.6,854.9 2024.6,859.1C2025.6,860.5 2027.1,861.4 2028.0,860.9C2030.6,859.5 2028.7,840.1 2031.4,831.7C2033.7,824.5 2038.6,817.1 2041.7,812.9C2043.5,810.5 2045.3,807.5 2046.9,807.7C2048.8,807.9 2049.9,814.0 2052.0,816.3C2054.0,818.5 2057.2,821.9 2058.9,821.4C2060.7,820.9 2061.1,812.9 2062.3,812.9C2063.4,812.9 2064.0,818.7 2065.7,819.7C2067.1,820.5 2069.6,820.8 2070.9,819.7C2073.4,817.6 2073.1,801.7 2074.3,801.7C2075.4,801.7 2076.7,818.0 2077.7,818.0C2078.7,818.0 2079.4,801.7 2080.3,801.7C2081.2,801.7 2082.3,818.0 2082.9,818.0C2083.6,818.0 2082.2,794.2 2083.7,790.6C2084.2,789.5 2085.0,788.8 2085.4,788.9C2086.1,789.1 2085.9,792.0 2086.3,795.0C2087.3,803.1 2089.1,825.0 2090.5,840.0" stroke="#c07ae0"/>
<path d="M156.1,938.1C174.4,939.8 194.2,941.7 211.0,943.3C225.3,944.7 235.5,946.5 250.6,947.2C270.6,948.2 303.5,944.5 320.7,947.2C331.1,948.8 337.4,953.1 345.0,954.9C351.5,956.4 357.3,956.0 363.3,957.9C369.6,959.9 375.7,963.4 381.6,967.1C387.9,971.0 393.6,976.9 399.9,980.8C405.8,984.5 412.5,986.0 418.2,989.9C424.2,994.0 430.2,1003.2 435.0,1005.1C437.8,1006.2 439.6,1005.8 442.6,1005.1C447.5,1004.0 455.4,996.0 460.9,996.0C465.4,996.0 469.0,998.8 473.1,1002.1C479.1,1006.9 486.5,1023.2 491.4,1024.4C493.7,1025.0 495.2,1023.7 497.5,1021.9C502.4,1018.1 508.3,1004.4 515.7,997.5C523.4,990.3 534.6,981.7 543.2,979.9C549.6,978.6 554.8,983.1 561.5,982.9C569.7,982.7 580.3,978.3 588.9,976.8C596.4,975.5 603.7,973.8 610.2,974.1C615.7,974.4 620.7,975.3 625.5,977.7C630.9,980.3 635.9,985.6 640.7,989.9C645.5,994.2 649.5,1002.7 654.4,1003.6C658.7,1004.4 663.7,999.8 668.1,997.5C672.4,995.2 676.2,990.0 680.3,989.9C684.3,989.8 687.7,995.5 692.5,996.9C698.5,998.6 708.1,995.2 713.9,997.5C718.9,999.5 721.4,1007.2 726.0,1008.2C730.6,1009.2 736.4,1005.9 741.3,1003.6C746.5,1001.2 751.5,995.9 756.5,993.9C760.6,992.2 764.9,990.8 768.7,991.4C772.5,992.0 775.6,998.1 779.4,997.5C785.1,996.6 791.0,980.3 798.3,977.0C804.7,974.1 810.7,976.7 819.6,976.4C834.7,975.9 864.4,972.0 880.6,974.0C891.7,975.3 899.8,982.2 908.0,981.9C914.8,981.6 919.0,976.9 926.3,974.9C936.3,972.2 949.1,970.2 962.9,968.8C980.6,967.0 1007.0,966.7 1023.8,966.6C1035.7,966.5 1044.2,968.4 1054.3,967.3C1064.5,966.1 1077.9,958.0 1084.8,959.6C1089.1,960.6 1091.5,963.4 1093.9,967.3C1097.5,973.3 1097.9,984.6 1100.0,994.7C1102.5,1007.0 1104.5,1035.4 1107.6,1035.8C1109.4,1036.0 1112.1,1027.7 1113.7,1022.1C1116.0,1014.1 1115.3,1001.0 1118.3,991.6C1121.1,982.8 1125.0,972.3 1130.5,967.3C1134.7,963.4 1139.1,963.0 1145.7,961.2C1156.7,958.1 1180.4,952.8 1191.5,953.5C1198.0,953.9 1200.2,957.8 1206.7,958.1C1217.8,958.6 1238.3,950.3 1252.4,949.0C1264.4,947.9 1274.6,951.4 1285.9,949.6C1298.0,947.7 1310.7,938.5 1322.5,936.8C1333.0,935.3 1345.1,937.6 1353.0,938.3C1358.0,938.7 1361.0,938.4 1365.2,939.8C1370.5,941.6 1376.7,949.5 1382.0,949.6C1386.8,949.7 1391.3,942.3 1395.7,942.3C1399.9,942.3 1404.4,946.5 1407.8,949.0C1410.8,951.2 1413.4,953.0 1415.4,956.3C1418.0,960.6 1419.2,967.3 1420.6,973.4C1422.2,980.3 1422.4,989.0 1424.0,995.7C1425.4,1001.4 1426.9,1006.7 1429.1,1011.1C1431.0,1014.8 1434.1,1016.6 1436.0,1020.6C1438.5,1026.1 1439.3,1035.1 1441.1,1042.0C1442.8,1048.5 1444.2,1056.0 1446.3,1060.9C1447.8,1064.4 1450.0,1069.6 1451.4,1069.4C1453.1,1069.1 1453.7,1058.8 1454.9,1054.0C1456.0,1049.7 1456.8,1045.7 1458.3,1042.0C1459.7,1038.6 1461.5,1035.3 1463.4,1032.6C1465.0,1030.3 1467.4,1029.4 1468.6,1026.6C1470.4,1022.5 1469.8,1015.8 1470.3,1009.4C1470.9,1001.3 1469.8,988.4 1472.0,982.0C1473.4,978.1 1476.2,973.2 1478.0,973.4C1480.3,973.7 1482.3,982.9 1484.0,988.9C1486.2,996.7 1487.5,1006.2 1489.1,1016.3C1491.0,1028.6 1490.6,1051.7 1494.3,1057.4C1495.7,1059.6 1497.3,1060.3 1499.4,1060.5C1502.5,1060.8 1508.8,1058.9 1511.4,1055.7C1514.6,1051.8 1513.9,1041.6 1514.9,1036.9C1515.5,1034.0 1515.2,1031.6 1516.6,1030.0C1518.0,1028.4 1521.4,1028.8 1523.4,1027.4C1525.5,1026.0 1527.3,1024.2 1528.6,1021.4C1530.8,1016.8 1529.5,1001.7 1532.0,1000.9C1533.7,1000.4 1537.2,1004.3 1538.9,1007.7C1541.8,1013.5 1539.9,1034.6 1542.3,1035.1C1544.0,1035.4 1547.3,1027.5 1549.2,1023.1C1551.3,1018.4 1552.8,1013.9 1554.3,1007.7C1556.4,998.9 1557.1,983.2 1559.4,975.1C1560.9,970.0 1562.4,965.5 1564.6,963.1C1566.1,961.6 1568.0,960.4 1569.7,960.6C1571.9,960.9 1574.6,963.7 1576.6,966.6C1579.5,970.9 1581.1,978.3 1583.4,985.4C1586.3,994.4 1590.0,1006.1 1592.0,1016.3C1593.9,1026.1 1592.7,1038.6 1595.4,1045.4C1597.1,1049.7 1599.7,1052.5 1602.3,1054.9C1604.4,1056.9 1607.3,1057.5 1609.2,1059.2C1610.9,1060.7 1611.9,1064.3 1613.4,1064.3C1615.2,1064.3 1617.3,1060.1 1619.4,1057.4C1622.1,1053.9 1625.2,1044.8 1628.0,1044.6C1630.3,1044.4 1632.8,1049.8 1634.9,1052.3C1636.8,1054.6 1638.7,1059.6 1640.0,1059.2C1642.6,1058.5 1640.9,1035.0 1643.4,1026.6C1645.1,1020.9 1648.4,1012.7 1650.3,1012.9C1652.7,1013.2 1652.9,1031.5 1655.4,1036.9C1656.9,1040.1 1659.0,1044.0 1660.6,1043.7C1663.5,1043.1 1664.0,1021.8 1667.4,1014.6C1669.7,1009.7 1673.5,1003.0 1676.0,1003.4C1678.9,1003.8 1681.0,1014.6 1682.9,1021.4C1685.2,1029.9 1684.9,1045.8 1688.0,1050.6C1689.4,1052.8 1691.7,1054.5 1693.2,1054.0C1695.6,1053.2 1695.3,1041.2 1698.3,1038.6C1700.5,1036.7 1704.5,1035.9 1706.9,1036.9C1709.7,1038.0 1711.6,1046.5 1713.7,1046.3C1716.2,1046.1 1717.6,1035.9 1720.6,1031.7C1723.4,1027.7 1727.9,1026.1 1730.9,1021.4C1735.2,1014.8 1738.2,994.1 1741.2,994.0C1743.1,993.9 1744.8,999.8 1746.3,1004.3C1748.8,1011.7 1749.6,1034.6 1752.0,1035.1C1753.0,1035.3 1754.3,1032.6 1755.4,1030.0C1757.9,1024.0 1758.9,1004.5 1762.3,997.4C1764.2,993.3 1766.9,992.5 1769.1,988.9C1772.2,983.7 1773.9,969.9 1777.7,968.3C1780.2,967.3 1783.9,970.4 1786.3,971.7C1788.3,972.7 1790.1,972.9 1791.4,975.1C1794.3,979.9 1793.0,1004.1 1794.9,1004.3C1796.2,1004.5 1798.1,994.6 1800.0,990.6C1801.6,987.3 1803.0,984.9 1805.1,982.0C1807.5,978.6 1810.3,973.7 1813.7,971.7C1816.7,970.0 1820.8,969.0 1824.0,970.0C1827.7,971.1 1830.8,978.4 1834.3,979.4C1837.1,980.2 1840.5,976.7 1842.9,977.7C1845.7,978.8 1847.9,982.7 1849.7,987.1C1852.7,994.5 1852.5,1010.9 1854.9,1019.7C1856.6,1025.9 1858.2,1034.2 1860.9,1035.1C1862.6,1035.7 1865.3,1033.9 1866.9,1031.7C1870.1,1027.3 1869.5,1012.8 1872.0,1006.0C1873.9,1001.1 1876.9,999.1 1878.9,994.0C1881.8,986.6 1882.9,972.7 1885.7,964.9C1887.7,959.3 1890.2,951.5 1892.6,951.1C1894.3,950.8 1896.4,954.0 1897.7,956.3C1899.5,959.5 1898.8,967.5 1901.1,969.1C1902.8,970.2 1906.2,967.2 1908.0,968.3C1910.7,969.9 1911.5,976.9 1913.1,982.0C1915.0,988.3 1916.2,1002.9 1918.3,1003.4C1919.3,1003.6 1920.8,1001.5 1921.7,999.1C1924.2,992.7 1923.4,959.9 1925.2,959.7C1926.3,959.6 1928.1,969.5 1929.4,975.1C1931.0,981.8 1931.7,997.0 1933.7,997.4C1934.7,997.6 1936.2,994.9 1937.2,992.3C1939.5,986.1 1937.3,962.8 1940.6,958.0C1941.9,956.0 1943.7,956.2 1945.7,955.4C1948.2,954.4 1951.5,954.2 1954.3,952.9C1957.3,951.5 1959.5,948.3 1962.9,946.9C1966.8,945.3 1972.7,946.1 1976.6,944.3C1980.0,942.7 1982.6,937.2 1985.2,937.4C1987.7,937.5 1990.2,941.0 1992.0,944.3C1994.8,949.4 1995.2,959.2 1997.2,966.6C1999.2,974.1 2002.0,980.6 2004.0,988.9C2006.4,999.0 2007.8,1022.9 2010.0,1023.1C2011.3,1023.2 2013.0,1016.4 2014.3,1011.1C2016.6,1001.6 2017.9,970.0 2019.5,970.0C2021.4,970.0 2022.5,1024.7 2024.6,1024.9C2025.6,1025.0 2027.0,1016.8 2028.0,1011.1C2029.5,1002.0 2028.7,983.7 2031.4,975.1C2033.1,969.8 2035.6,965.9 2038.3,963.1C2040.4,961.0 2042.7,959.5 2045.2,958.9C2047.8,958.3 2051.0,959.2 2053.7,959.7C2056.1,960.1 2058.3,962.1 2060.6,961.4C2064.0,960.3 2067.3,952.0 2070.9,949.4C2073.6,947.4 2076.7,947.0 2079.4,946.0C2081.8,945.1 2084.5,942.3 2086.3,943.4C2090.5,946.0 2089.1,970.5 2090.5,984.0" stroke="#00aa66"/>
<path d="M156.1,1082.9C167.3,1083.7 177.6,1084.7 189.6,1085.3C203.6,1086.0 224.2,1085.2 235.3,1086.5C241.8,1087.2 243.6,1089.0 250.6,1089.6C265.4,1091.0 303.5,1085.9 320.7,1088.4C331.0,1089.9 336.8,1094.3 345.0,1096.0C353.0,1097.7 361.4,1096.6 369.4,1098.7C377.7,1100.8 385.7,1105.1 393.8,1108.8C402.0,1112.5 412.0,1115.3 418.2,1121.0C423.9,1126.2 426.5,1136.1 430.4,1140.8C433.0,1143.9 435.3,1147.1 438.0,1147.5C440.4,1147.8 442.6,1145.7 445.6,1143.8C450.5,1140.7 458.7,1129.5 463.9,1129.2C467.4,1129.0 470.4,1131.8 473.1,1134.7C476.8,1138.7 479.1,1147.1 482.2,1153.0C485.2,1158.7 487.9,1169.0 491.4,1169.7C494.2,1170.2 497.5,1166.0 500.5,1162.1C505.7,1155.2 509.0,1137.4 515.7,1128.6C521.6,1120.9 530.6,1113.3 537.1,1110.9C541.4,1109.3 545.2,1109.8 549.3,1110.9C554.3,1112.3 558.9,1119.8 564.5,1120.0C570.9,1120.3 578.5,1112.1 585.8,1109.7C592.8,1107.4 600.3,1105.8 607.2,1105.7C613.5,1105.6 619.9,1106.5 625.5,1108.8C631.1,1111.1 635.9,1115.1 640.7,1119.4C646.1,1124.3 650.8,1136.0 656.0,1137.1C660.0,1138.0 664.3,1134.2 668.1,1131.6C672.4,1128.7 676.2,1120.1 680.3,1120.0C684.3,1119.9 687.4,1129.2 692.5,1131.0C698.3,1133.1 708.0,1128.4 713.9,1130.1C718.8,1131.5 721.5,1137.5 726.0,1138.3C730.6,1139.2 736.8,1137.3 741.3,1134.7C746.1,1132.0 748.8,1124.7 753.5,1121.9C758.0,1119.3 764.2,1117.1 768.7,1117.9C772.8,1118.6 775.7,1125.9 779.4,1125.5C784.4,1124.9 788.6,1111.2 795.2,1107.7C801.9,1104.1 809.4,1105.3 819.6,1104.6C836.4,1103.5 870.8,1101.0 886.7,1104.0C896.0,1105.7 900.6,1112.3 908.0,1112.5C915.8,1112.7 923.7,1106.0 932.4,1104.0C941.9,1101.8 951.0,1101.1 962.9,1100.3C979.7,1099.2 1007.0,1099.1 1023.8,1099.4C1035.7,1099.6 1044.2,1101.6 1054.3,1101.0C1064.5,1100.4 1077.8,1094.2 1084.8,1095.5C1088.9,1096.3 1091.5,1097.7 1093.9,1101.0C1097.7,1106.3 1098.3,1118.0 1100.0,1128.4C1102.1,1141.6 1101.9,1173.6 1104.6,1174.1C1105.9,1174.3 1108.0,1168.9 1109.2,1165.0C1111.0,1158.9 1110.8,1148.9 1112.2,1140.6C1113.7,1131.7 1114.6,1120.3 1118.3,1113.1C1121.3,1107.3 1124.3,1102.9 1130.5,1099.4C1140.4,1093.9 1162.5,1091.7 1176.2,1091.2C1187.4,1090.8 1195.5,1094.4 1206.7,1094.3C1220.4,1094.2 1238.7,1088.9 1252.4,1088.8C1263.6,1088.7 1272.8,1092.5 1282.9,1091.8C1293.1,1091.1 1304.9,1085.7 1313.4,1084.2C1319.3,1083.2 1322.3,1082.9 1328.6,1082.7C1338.7,1082.4 1357.0,1083.6 1368.2,1084.2C1376.4,1084.6 1383.1,1084.5 1389.6,1085.7C1395.2,1086.7 1400.5,1087.6 1404.8,1090.3C1409.1,1092.9 1412.8,1096.7 1415.4,1101.4C1418.4,1106.9 1419.2,1114.8 1420.6,1122.0C1422.1,1129.7 1422.5,1138.3 1424.0,1146.0C1425.4,1153.2 1426.1,1162.8 1429.1,1166.6C1430.9,1168.9 1434.2,1167.8 1436.0,1170.0C1438.8,1173.3 1439.4,1181.4 1441.1,1187.1C1442.8,1192.8 1444.3,1199.6 1446.3,1204.3C1447.8,1207.8 1450.1,1213.1 1451.4,1212.9C1453.2,1212.6 1454.0,1201.6 1454.9,1195.7C1455.8,1189.6 1454.7,1182.5 1456.6,1176.9C1458.3,1171.7 1462.9,1166.6 1465.1,1163.1C1466.5,1161.0 1467.7,1160.5 1468.6,1158.0C1470.4,1152.9 1469.6,1139.8 1470.3,1132.3C1470.8,1126.5 1470.2,1120.5 1472.0,1116.9C1473.3,1114.3 1476.2,1111.0 1478.0,1111.4C1480.5,1112.0 1482.3,1121.0 1484.0,1127.1C1486.2,1135.2 1487.6,1145.3 1489.1,1156.3C1491.1,1170.3 1489.5,1201.0 1494.3,1204.3C1496.1,1205.6 1498.8,1203.7 1501.1,1202.6C1504.0,1201.2 1507.7,1198.7 1509.7,1195.7C1511.8,1192.5 1512.2,1188.0 1513.1,1183.7C1514.0,1178.9 1512.7,1171.8 1514.9,1168.3C1516.7,1165.5 1521.1,1165.2 1523.4,1163.1C1525.6,1161.2 1527.3,1159.4 1528.6,1156.3C1530.7,1151.5 1529.9,1136.1 1532.0,1135.7C1533.7,1135.4 1537.1,1142.7 1538.9,1147.7C1541.4,1154.8 1541.1,1174.9 1543.2,1175.1C1544.8,1175.3 1547.4,1165.0 1549.2,1159.7C1551.1,1154.2 1553.0,1149.0 1554.3,1142.6C1556.0,1134.6 1556.0,1123.1 1557.7,1115.1C1559.1,1108.7 1560.1,1101.0 1562.9,1098.0C1564.7,1096.1 1567.5,1095.0 1569.7,1095.4C1572.1,1095.8 1574.7,1098.7 1576.6,1101.4C1579.0,1104.8 1579.9,1109.3 1581.7,1115.1C1584.8,1124.8 1589.7,1141.8 1592.0,1154.6C1594.1,1166.4 1592.7,1180.6 1595.4,1188.9C1597.1,1194.2 1599.7,1198.8 1602.3,1200.9C1603.9,1202.2 1605.8,1201.5 1607.4,1202.6C1609.4,1204.0 1610.6,1209.1 1612.6,1209.4C1614.6,1209.7 1617.3,1207.0 1619.4,1204.3C1622.8,1200.0 1625.5,1183.7 1628.0,1183.7C1629.9,1183.7 1630.7,1193.6 1633.2,1195.7C1635.0,1197.3 1638.2,1198.7 1640.0,1197.4C1644.4,1194.2 1639.9,1161.7 1643.4,1152.9C1645.1,1148.5 1648.5,1143.8 1650.3,1144.3C1653.6,1145.2 1651.3,1175.7 1655.4,1180.3C1657.2,1182.3 1660.4,1183.3 1662.3,1182.0C1666.9,1179.0 1664.6,1145.9 1669.2,1140.9C1671.1,1138.8 1674.2,1138.2 1676.0,1139.1C1678.6,1140.5 1679.6,1146.9 1681.2,1152.9C1683.9,1163.1 1683.3,1191.1 1688.0,1195.7C1689.9,1197.5 1693.1,1197.8 1694.9,1196.6C1698.0,1194.5 1696.7,1180.1 1700.0,1176.9C1702.2,1174.8 1706.2,1174.1 1708.6,1175.1C1711.5,1176.3 1713.5,1185.7 1715.4,1185.4C1717.8,1185.0 1717.7,1171.2 1720.6,1164.9C1723.5,1158.6 1729.3,1154.5 1732.6,1147.7C1736.5,1139.5 1738.5,1118.8 1741.2,1118.6C1743.0,1118.5 1744.8,1125.2 1746.3,1130.6C1749.0,1140.6 1749.2,1174.5 1752.0,1175.1C1753.0,1175.3 1754.3,1172.7 1755.4,1170.0C1758.4,1162.3 1758.1,1130.5 1762.3,1122.0C1764.2,1118.2 1766.9,1118.1 1769.1,1115.1C1772.1,1111.0 1774.5,1099.3 1777.7,1098.9C1780.3,1098.6 1783.8,1105.7 1786.3,1108.3C1788.2,1110.3 1790.1,1110.6 1791.4,1113.4C1794.2,1119.3 1793.3,1145.9 1794.9,1146.0C1796.3,1146.1 1797.4,1128.3 1800.0,1123.7C1801.4,1121.1 1803.1,1120.4 1805.1,1118.6C1807.5,1116.4 1810.4,1112.6 1813.7,1111.7C1817.2,1110.7 1822.5,1111.8 1825.7,1113.4C1828.6,1114.9 1829.7,1118.2 1832.6,1120.3C1836.2,1122.9 1843.2,1123.4 1846.3,1127.1C1849.7,1131.1 1849.8,1137.4 1851.4,1144.3C1853.8,1154.4 1854.6,1180.4 1858.3,1182.0C1859.8,1182.6 1861.9,1180.8 1863.4,1178.6C1866.9,1173.5 1867.5,1154.7 1870.3,1146.0C1872.3,1139.8 1875.0,1135.4 1877.1,1130.6C1879.0,1126.4 1880.6,1123.4 1882.3,1118.6C1884.7,1112.0 1885.6,1096.7 1889.2,1094.6C1891.1,1093.5 1894.2,1094.6 1896.0,1096.3C1898.9,1099.1 1898.2,1111.7 1901.1,1113.4C1902.9,1114.4 1906.3,1110.7 1908.0,1111.7C1910.2,1113.0 1910.3,1118.8 1911.4,1123.7C1913.1,1131.3 1913.5,1151.6 1916.6,1152.9C1918.0,1153.5 1920.3,1151.8 1921.7,1149.4C1925.5,1142.8 1923.2,1101.6 1925.2,1101.4C1926.5,1101.3 1929.0,1114.2 1930.3,1122.0C1932.0,1131.9 1931.4,1155.7 1933.7,1156.3C1934.7,1156.5 1936.2,1153.9 1937.2,1151.1C1940.0,1143.0 1936.0,1106.6 1940.6,1099.7C1942.4,1097.1 1945.2,1096.8 1947.4,1096.3C1949.2,1095.9 1951.1,1095.4 1952.6,1096.3C1954.8,1097.7 1956.3,1106.7 1957.7,1106.6C1959.2,1106.4 1958.8,1094.0 1961.1,1092.9C1962.8,1092.1 1965.5,1096.0 1968.0,1096.3C1970.7,1096.7 1973.8,1096.1 1976.6,1094.6C1980.2,1092.6 1983.9,1083.9 1986.9,1083.4C1988.8,1083.1 1990.5,1084.1 1992.0,1086.0C1995.8,1090.7 1998.3,1107.5 2000.6,1118.6C2002.9,1129.8 2004.1,1141.9 2005.7,1152.9C2007.2,1163.0 2008.1,1181.8 2010.0,1182.0C2011.2,1182.1 2013.1,1175.4 2014.3,1170.0C2016.7,1159.4 2017.8,1122.0 2019.5,1122.0C2021.2,1122.0 2022.8,1169.9 2024.6,1170.0C2025.7,1170.0 2027.0,1159.7 2028.0,1152.9C2029.4,1143.1 2028.0,1125.7 2031.4,1116.9C2033.8,1110.8 2038.4,1103.6 2041.7,1103.1C2044.1,1102.8 2046.5,1108.2 2048.6,1108.3C2050.4,1108.4 2051.9,1104.9 2053.7,1104.9C2055.8,1105.0 2058.0,1110.2 2060.6,1110.0C2064.5,1109.7 2069.6,1099.5 2074.3,1096.3C2078.2,1093.7 2083.4,1089.4 2086.3,1091.1C2091.5,1094.1 2089.1,1119.7 2090.5,1134.0" stroke="#0066dd"/>
<path d="M156.1,1227.4C169.3,1228.4 181.4,1229.5 195.7,1230.5C212.5,1231.7 230.4,1233.3 250.6,1234.1C275.3,1235.0 304.7,1235.0 332.9,1235.0C362.6,1235.0 407.5,1230.9 424.3,1234.1C431.1,1235.4 434.9,1236.8 438.0,1239.6C440.6,1242.0 440.6,1245.6 442.6,1248.8C445.0,1252.7 449.1,1261.2 451.7,1261.0C454.1,1260.9 455.6,1253.2 457.8,1250.3C459.7,1247.8 461.5,1244.4 463.9,1244.2C466.6,1243.9 470.3,1247.6 473.1,1250.3C476.4,1253.5 478.7,1261.4 482.2,1262.5C485.0,1263.4 488.9,1258.5 491.4,1259.4C494.1,1260.3 495.0,1268.1 497.5,1268.6C499.7,1269.1 502.4,1264.0 505.1,1264.0C508.3,1264.0 512.3,1270.8 515.7,1270.7C518.9,1270.6 521.2,1266.4 524.9,1264.0C529.9,1260.7 536.5,1254.1 543.2,1253.3C550.6,1252.4 560.1,1260.4 567.6,1260.3C574.1,1260.2 579.2,1255.7 585.8,1254.3C593.3,1252.7 602.7,1251.3 610.2,1251.8C616.8,1252.3 623.8,1252.4 628.5,1256.4C634.1,1261.1 634.4,1278.3 639.2,1280.8C642.2,1282.4 647.0,1277.4 649.8,1278.6C652.7,1279.8 653.8,1288.4 656.0,1288.4C658.8,1288.4 662.6,1272.8 665.1,1273.1C668.0,1273.4 669.1,1294.4 671.8,1294.5C675.0,1294.6 679.7,1264.7 683.4,1264.6C686.5,1264.5 688.6,1284.0 692.5,1285.3C695.2,1286.2 699.0,1279.7 701.7,1279.9C704.0,1280.1 705.7,1285.0 707.8,1284.7C710.8,1284.3 713.5,1272.2 716.9,1271.6C719.7,1271.1 722.5,1277.5 726.0,1277.7C730.4,1278.0 736.7,1273.3 741.3,1270.1C745.8,1267.0 748.6,1260.5 753.5,1258.8C758.7,1257.0 766.8,1259.1 771.8,1260.3C775.4,1261.2 777.6,1264.3 780.9,1264.0C785.2,1263.6 789.2,1256.4 795.2,1254.9C803.2,1252.9 814.0,1257.0 825.7,1257.0C841.3,1257.0 865.5,1252.3 880.6,1253.3C891.4,1254.0 899.1,1258.6 908.0,1258.8C916.4,1259.0 923.8,1256.0 932.4,1254.9C942.0,1253.6 951.0,1252.6 962.9,1251.8C979.7,1250.7 1007.0,1250.5 1023.8,1250.3C1035.7,1250.2 1044.2,1251.2 1054.3,1250.3C1064.5,1249.4 1078.1,1244.3 1084.8,1244.8C1088.2,1245.0 1090.2,1245.3 1092.4,1247.3C1095.8,1250.5 1097.8,1257.7 1100.0,1265.5C1103.5,1278.2 1104.1,1316.8 1107.6,1317.4C1109.4,1317.7 1111.9,1310.6 1113.7,1305.2C1116.9,1295.9 1117.5,1275.0 1121.4,1265.5C1123.9,1259.4 1125.2,1255.3 1130.5,1251.8C1139.4,1246.0 1159.0,1245.4 1176.2,1243.6C1198.3,1241.3 1239.4,1239.7 1252.4,1241.2C1257.0,1241.7 1258.4,1243.9 1261.6,1243.6C1265.4,1243.3 1270.0,1238.2 1273.8,1238.1C1277.0,1238.0 1278.9,1241.6 1282.9,1241.8C1290.0,1242.2 1304.5,1234.7 1313.4,1233.5C1320.2,1232.6 1326.8,1232.0 1331.7,1233.5C1335.5,1234.6 1337.5,1239.5 1340.8,1239.6C1344.6,1239.7 1348.2,1234.0 1353.0,1232.0C1358.9,1229.6 1366.3,1228.4 1374.3,1227.4C1384.2,1226.2 1401.4,1224.2 1407.8,1226.5C1410.9,1227.6 1412.0,1229.4 1413.7,1231.7C1415.8,1234.6 1417.4,1238.5 1418.9,1242.9C1420.9,1248.6 1422.1,1257.3 1424.0,1263.4C1425.6,1268.5 1426.6,1274.2 1429.1,1277.1C1431.0,1279.2 1434.2,1278.0 1436.0,1280.6C1440.1,1286.8 1436.6,1313.3 1439.4,1323.4C1441.1,1329.4 1444.5,1332.2 1446.3,1337.1C1448.3,1342.4 1449.2,1354.3 1450.6,1354.3C1452.1,1354.3 1453.6,1340.7 1454.9,1333.7C1456.2,1326.4 1456.8,1318.5 1458.3,1311.4C1459.7,1304.8 1461.6,1298.5 1463.4,1292.6C1465.0,1287.2 1467.2,1282.9 1468.6,1277.1C1470.3,1270.0 1469.2,1257.9 1472.0,1253.1C1473.7,1250.3 1476.8,1247.8 1478.9,1248.0C1480.8,1248.1 1482.6,1250.3 1484.0,1253.1C1487.2,1259.4 1487.6,1275.5 1489.1,1289.1C1491.1,1306.9 1492.0,1350.7 1494.3,1350.9C1495.6,1351.0 1496.5,1332.5 1498.6,1332.0C1499.8,1331.7 1501.7,1334.9 1502.9,1337.1C1504.5,1340.1 1505.0,1349.2 1506.3,1349.2C1508.2,1349.2 1510.9,1332.3 1513.1,1323.4C1515.5,1314.0 1516.6,1295.3 1520.0,1294.3C1521.9,1293.7 1524.7,1301.5 1526.9,1301.1C1530.5,1300.4 1534.5,1278.6 1537.1,1278.9C1539.7,1279.2 1539.4,1304.0 1542.3,1304.6C1544.5,1305.1 1548.6,1296.9 1550.9,1292.6C1553.2,1288.3 1554.5,1284.3 1556.0,1278.9C1558.0,1271.7 1559.2,1260.3 1561.2,1253.1C1562.7,1247.7 1563.9,1242.6 1566.3,1239.4C1568.2,1236.9 1570.8,1234.5 1573.2,1234.3C1575.4,1234.1 1578.2,1235.6 1580.0,1237.7C1582.7,1240.8 1583.6,1246.8 1585.2,1253.1C1587.7,1262.5 1590.3,1275.8 1592.0,1289.1C1594.0,1305.4 1589.9,1338.8 1595.4,1344.0C1597.6,1346.1 1602.0,1345.7 1604.0,1344.0C1607.2,1341.2 1605.8,1322.8 1607.4,1322.6C1608.8,1322.5 1610.6,1333.3 1612.6,1337.1C1614.1,1340.0 1616.2,1344.2 1617.7,1344.0C1619.8,1343.7 1621.0,1328.7 1622.9,1328.6C1624.5,1328.5 1625.6,1337.2 1628.0,1338.9C1629.9,1340.2 1632.9,1340.5 1634.9,1339.7C1637.0,1338.9 1638.7,1336.9 1640.0,1333.7C1643.1,1326.3 1640.5,1302.0 1643.4,1292.6C1645.1,1287.2 1648.4,1280.4 1650.3,1280.6C1652.6,1280.9 1653.7,1292.9 1655.4,1299.4C1657.2,1306.5 1658.7,1321.7 1660.6,1321.7C1662.7,1321.7 1664.9,1303.7 1667.4,1296.0C1669.5,1289.4 1671.4,1279.1 1674.3,1278.0C1675.9,1277.4 1678.1,1278.7 1679.5,1280.6C1682.5,1284.6 1683.2,1297.6 1684.6,1306.3C1686.0,1315.3 1684.8,1332.4 1688.0,1333.7C1690.0,1334.5 1693.9,1330.3 1696.6,1326.9C1701.0,1321.4 1704.5,1307.5 1708.6,1301.1C1711.4,1296.7 1714.5,1292.8 1717.2,1290.9C1718.9,1289.7 1720.9,1288.6 1722.3,1289.1C1723.9,1289.7 1724.5,1295.3 1725.7,1295.1C1728.3,1294.8 1730.2,1267.3 1734.3,1261.7C1736.3,1259.0 1739.4,1256.5 1741.2,1257.4C1745.9,1259.7 1742.8,1308.8 1746.3,1309.7C1747.8,1310.1 1750.4,1305.1 1752.0,1301.1C1754.8,1293.9 1755.0,1277.4 1757.1,1268.6C1758.6,1262.4 1759.9,1253.7 1762.3,1253.1C1764.2,1252.7 1767.2,1260.4 1769.1,1260.0C1771.5,1259.4 1771.9,1245.4 1774.3,1244.6C1775.8,1244.1 1778.0,1245.7 1779.4,1248.0C1783.1,1254.3 1781.9,1292.5 1783.7,1292.6C1785.4,1292.7 1787.8,1256.6 1789.7,1256.6C1791.6,1256.6 1793.4,1292.6 1794.9,1292.6C1796.3,1292.6 1796.0,1260.4 1798.3,1260.0C1800.0,1259.7 1803.4,1275.6 1805.1,1275.4C1807.1,1275.1 1806.0,1252.5 1808.6,1251.4C1809.9,1250.8 1812.2,1252.9 1813.7,1254.9C1816.6,1258.7 1818.7,1275.6 1820.6,1275.4C1822.9,1275.2 1822.2,1251.4 1825.7,1244.6C1827.9,1240.4 1831.6,1236.0 1834.3,1236.0C1836.7,1236.0 1839.4,1239.2 1841.1,1242.9C1844.6,1250.4 1841.7,1274.8 1844.6,1282.3C1845.9,1285.8 1848.3,1285.4 1849.7,1289.1C1853.5,1299.0 1851.0,1347.1 1854.9,1349.2C1855.9,1349.7 1857.3,1348.8 1858.3,1347.4C1861.7,1342.5 1861.8,1316.0 1863.4,1302.9C1864.6,1292.6 1865.2,1275.5 1866.9,1275.4C1868.3,1275.3 1870.5,1292.7 1872.0,1292.6C1874.0,1292.5 1875.6,1260.0 1877.1,1260.0C1879.1,1260.1 1880.5,1316.6 1882.3,1316.6C1884.0,1316.6 1884.0,1279.0 1887.4,1268.6C1889.2,1263.0 1892.5,1256.4 1894.3,1256.6C1895.9,1256.8 1895.5,1265.6 1897.7,1266.9C1899.7,1268.0 1904.0,1263.5 1906.3,1265.1C1911.3,1268.5 1910.7,1306.2 1913.1,1306.3C1914.8,1306.4 1916.5,1293.5 1918.3,1285.7C1920.6,1275.7 1922.9,1251.4 1925.2,1251.4C1927.4,1251.4 1929.7,1282.2 1932.0,1282.3C1933.7,1282.4 1935.2,1271.3 1937.2,1265.1C1939.6,1257.7 1941.8,1242.5 1945.7,1241.1C1948.1,1240.2 1951.6,1246.4 1954.3,1246.3C1956.7,1246.2 1959.4,1240.5 1961.1,1241.1C1963.3,1241.9 1962.9,1254.7 1964.6,1254.9C1966.3,1255.1 1969.6,1242.6 1971.4,1242.9C1973.8,1243.3 1974.1,1268.5 1975.7,1268.6C1977.0,1268.7 1977.9,1257.0 1980.0,1251.4C1982.2,1245.6 1984.9,1236.6 1988.6,1234.3C1991.1,1232.8 1994.9,1232.2 1997.2,1234.3C2003.3,1239.9 1996.5,1288.2 2002.3,1296.0C2004.6,1299.0 2008.7,1300.6 2010.9,1299.4C2014.9,1297.1 2014.4,1268.6 2016.0,1268.6C2017.9,1268.6 2019.5,1313.1 2021.2,1313.1C2023.0,1313.1 2022.7,1272.7 2026.3,1265.1C2027.7,1262.1 2029.5,1262.1 2031.4,1260.0C2034.3,1256.9 2038.3,1250.1 2041.7,1248.0C2044.0,1246.6 2046.1,1247.0 2048.6,1246.3C2051.7,1245.4 2055.5,1244.0 2058.9,1242.9C2062.3,1241.7 2066.8,1238.2 2069.2,1239.4C2071.8,1240.7 2071.6,1251.2 2073.4,1251.4C2075.4,1251.6 2078.5,1240.8 2081.1,1237.7C2082.8,1235.6 2084.9,1232.8 2086.3,1233.4C2089.7,1234.8 2089.1,1260.5 2090.5,1274.0" stroke="#ff4040"/>
<path d="M156.1,1369.2C187.6,1370.9 220.2,1373.5 250.6,1374.3C279.0,1375.1 309.5,1373.3 332.9,1374.3C350.4,1375.1 362.3,1376.5 378.6,1378.3C397.5,1380.4 422.7,1383.9 439.5,1386.5C451.4,1388.4 460.1,1391.8 470.0,1392.0C479.4,1392.2 486.1,1389.5 497.5,1388.4C516.0,1386.7 556.5,1386.0 570.6,1384.4C576.4,1383.7 578.5,1382.7 582.8,1382.3C587.6,1381.9 592.4,1381.8 598.0,1382.3C605.2,1382.9 616.5,1383.6 622.4,1386.5C626.6,1388.6 629.0,1391.2 631.6,1395.1C635.0,1400.3 635.6,1415.2 639.2,1416.4C641.7,1417.2 645.5,1409.9 648.3,1410.3C651.2,1410.7 653.5,1419.6 656.0,1419.4C659.1,1419.1 662.5,1403.3 665.1,1403.6C668.2,1404.0 669.9,1428.6 672.7,1428.6C675.9,1428.6 680.0,1396.7 683.4,1396.6C686.0,1396.5 686.5,1412.9 691.0,1415.8C695.0,1418.4 703.3,1416.7 707.8,1414.9C711.6,1413.4 713.7,1407.7 716.9,1407.3C719.8,1407.0 722.6,1411.0 726.0,1411.8C729.7,1412.7 734.4,1413.7 738.2,1411.8C743.3,1409.2 746.1,1395.6 751.9,1393.5C757.4,1391.5 764.8,1398.8 771.8,1398.1C780.1,1397.3 789.2,1388.1 798.3,1386.3C807.2,1384.5 815.4,1387.3 825.7,1386.9C839.0,1386.4 860.3,1384.2 871.4,1382.6C877.9,1381.7 881.2,1379.2 886.7,1379.6C893.3,1380.0 901.5,1387.1 908.0,1386.9C913.5,1386.8 918.0,1381.5 923.2,1380.8C928.2,1380.1 932.8,1382.7 938.5,1382.6C945.7,1382.5 954.3,1379.2 962.9,1378.7C972.5,1378.2 983.2,1380.3 993.3,1380.2C1003.5,1380.1 1013.2,1378.1 1023.8,1377.8C1035.4,1377.5 1049.5,1379.6 1060.4,1378.7C1069.4,1378.0 1078.7,1373.7 1084.8,1374.1C1088.6,1374.4 1091.5,1374.7 1093.9,1377.2C1097.5,1381.0 1098.4,1390.1 1100.0,1398.5C1102.3,1410.2 1102.4,1433.5 1104.6,1441.2C1105.5,1444.3 1106.5,1447.3 1107.6,1447.3C1109.0,1447.3 1110.8,1442.3 1112.2,1438.1C1114.7,1430.5 1115.4,1414.4 1118.3,1404.6C1120.7,1396.5 1121.2,1388.3 1127.5,1383.2C1136.8,1375.8 1158.1,1375.8 1176.2,1374.1C1198.7,1372.0 1241.3,1372.0 1252.4,1374.1C1255.7,1374.7 1256.0,1376.6 1258.5,1376.5C1262.5,1376.4 1268.4,1370.0 1273.8,1369.5C1279.5,1369.0 1285.7,1374.2 1292.0,1374.1C1298.9,1374.0 1306.8,1368.9 1313.4,1368.0C1318.8,1367.2 1324.0,1366.8 1328.6,1368.0C1333.0,1369.1 1336.7,1374.5 1340.8,1374.7C1344.8,1374.9 1348.9,1370.1 1353.0,1369.5C1357.0,1369.0 1361.2,1369.9 1365.2,1371.1C1369.4,1372.4 1373.3,1377.1 1377.4,1377.2C1381.4,1377.3 1385.0,1372.8 1389.6,1371.7C1395.0,1370.5 1401.9,1371.6 1407.8,1371.1C1413.4,1370.7 1419.9,1368.0 1424.0,1369.1C1427.0,1369.9 1429.2,1371.8 1430.9,1374.3C1433.0,1377.5 1433.3,1382.9 1434.3,1388.0C1435.6,1394.1 1436.8,1400.3 1437.7,1408.6C1439.1,1421.2 1437.3,1448.9 1440.3,1456.6C1441.4,1459.5 1443.3,1459.1 1444.6,1461.7C1447.2,1467.1 1448.8,1489.2 1450.6,1489.2C1452.2,1489.2 1453.9,1475.0 1454.9,1466.9C1456.1,1457.5 1455.2,1445.0 1456.6,1436.0C1457.7,1428.9 1459.2,1422.0 1461.7,1417.1C1463.6,1413.5 1466.9,1412.4 1468.6,1408.6C1471.0,1403.2 1469.5,1390.9 1472.0,1386.3C1473.5,1383.6 1476.1,1381.0 1478.0,1381.1C1480.1,1381.2 1482.5,1384.7 1484.0,1388.0C1486.4,1393.4 1486.2,1402.6 1487.4,1412.0C1489.1,1425.2 1491.3,1445.5 1492.6,1460.0C1493.7,1471.9 1494.1,1492.6 1495.1,1492.6C1496.1,1492.6 1495.9,1463.2 1498.6,1461.7C1499.5,1461.2 1501.1,1462.1 1502.0,1463.4C1504.5,1466.9 1503.4,1488.9 1505.4,1489.2C1506.9,1489.4 1509.6,1480.9 1511.4,1475.4C1514.0,1467.6 1516.3,1453.9 1518.3,1446.3C1519.6,1441.4 1519.8,1434.8 1521.7,1434.3C1523.4,1433.9 1526.6,1441.7 1528.6,1441.1C1532.4,1440.1 1534.8,1408.5 1537.1,1408.6C1539.4,1408.7 1538.3,1439.2 1542.3,1441.1C1544.5,1442.1 1548.6,1438.1 1550.9,1436.0C1553.1,1434.0 1554.7,1432.3 1556.0,1429.1C1558.2,1423.7 1557.7,1412.0 1559.4,1405.1C1560.8,1399.6 1561.8,1394.4 1564.6,1390.6C1567.2,1387.2 1571.7,1383.2 1574.9,1382.9C1577.3,1382.7 1579.9,1384.1 1581.7,1386.3C1584.6,1389.8 1585.4,1397.7 1586.9,1405.1C1589.0,1415.5 1590.6,1429.8 1592.0,1442.9C1593.5,1457.1 1591.4,1485.9 1595.4,1487.4C1597.5,1488.2 1602.0,1483.0 1604.0,1478.9C1607.1,1472.7 1605.6,1451.6 1607.4,1451.4C1608.8,1451.3 1610.1,1466.6 1612.6,1466.9C1615.2,1467.2 1620.6,1450.9 1622.9,1451.4C1625.7,1452.1 1623.2,1473.7 1626.3,1478.9C1628.0,1481.8 1631.1,1484.4 1633.2,1484.0C1635.8,1483.4 1638.3,1477.4 1640.0,1472.0C1642.9,1462.6 1640.1,1439.2 1643.4,1430.9C1645.1,1426.6 1648.4,1421.9 1650.3,1422.3C1652.7,1422.8 1653.7,1433.0 1655.4,1439.4C1657.5,1447.4 1659.3,1466.9 1661.4,1466.9C1663.8,1466.9 1666.0,1438.0 1669.2,1430.9C1670.8,1427.5 1672.2,1424.5 1674.3,1424.0C1676.3,1423.5 1679.3,1425.0 1681.2,1427.4C1685.0,1432.2 1685.9,1456.6 1688.0,1456.6C1689.9,1456.6 1690.9,1433.0 1693.2,1432.6C1694.7,1432.4 1696.1,1440.5 1698.3,1441.1C1700.2,1441.7 1703.5,1440.1 1705.2,1437.7C1708.4,1433.1 1705.6,1415.6 1708.6,1410.3C1710.3,1407.4 1713.3,1404.5 1715.4,1405.1C1719.3,1406.2 1723.4,1431.2 1725.7,1430.9C1727.9,1430.6 1726.4,1410.7 1729.2,1405.1C1730.9,1401.7 1733.6,1398.7 1736.0,1398.3C1738.2,1397.9 1741.1,1399.1 1742.9,1401.7C1747.3,1408.3 1742.2,1448.1 1746.3,1449.7C1748.2,1450.4 1751.8,1446.5 1753.7,1442.9C1757.1,1436.6 1756.4,1420.4 1758.9,1412.0C1760.7,1405.8 1762.8,1400.8 1765.7,1396.6C1768.1,1393.0 1772.0,1387.7 1774.3,1388.0C1776.4,1388.3 1778.0,1392.4 1779.4,1396.6C1782.4,1405.7 1782.2,1442.9 1783.7,1442.9C1785.1,1442.9 1784.6,1404.8 1788.0,1401.7C1789.0,1400.8 1790.4,1400.8 1791.4,1401.7C1794.4,1404.4 1793.7,1436.0 1794.9,1436.0C1796.0,1436.0 1796.7,1403.5 1798.3,1403.4C1799.7,1403.3 1802.0,1425.8 1803.4,1425.7C1805.1,1425.6 1802.7,1393.7 1806.9,1388.0C1809.0,1385.2 1813.2,1383.4 1815.4,1384.6C1819.4,1386.8 1818.8,1415.4 1820.6,1415.4C1822.3,1415.4 1821.6,1392.0 1825.7,1388.0C1828.2,1385.5 1833.5,1385.0 1836.0,1386.3C1838.7,1387.7 1839.8,1392.1 1841.1,1396.6C1843.2,1403.7 1842.2,1419.5 1844.6,1425.7C1845.9,1429.0 1848.3,1428.9 1849.7,1432.6C1853.4,1442.3 1851.5,1489.7 1854.9,1490.9C1855.9,1491.3 1857.3,1489.6 1858.3,1487.4C1862.1,1478.6 1858.1,1420.6 1862.6,1412.0C1863.8,1409.7 1865.8,1408.2 1866.9,1408.6C1869.1,1409.5 1869.0,1429.1 1870.3,1429.1C1871.8,1429.1 1873.9,1401.6 1875.4,1401.7C1877.8,1401.8 1879.6,1466.9 1881.4,1466.9C1883.1,1466.9 1882.2,1422.5 1885.7,1408.6C1887.8,1400.3 1890.8,1392.6 1894.3,1389.7C1896.3,1388.0 1898.9,1387.8 1901.1,1388.0C1903.4,1388.2 1906.2,1388.8 1908.0,1391.4C1912.6,1398.0 1911.1,1439.3 1913.1,1439.4C1914.7,1439.4 1916.1,1418.2 1918.3,1408.6C1920.2,1400.0 1920.9,1388.9 1925.2,1384.6C1928.2,1381.6 1933.6,1382.7 1937.2,1381.1C1940.4,1379.7 1942.2,1377.1 1945.7,1376.0C1950.3,1374.6 1959.8,1372.4 1962.9,1375.1C1965.9,1377.7 1963.0,1391.0 1964.6,1391.4C1965.8,1391.7 1968.2,1384.3 1969.7,1384.6C1972.2,1385.1 1974.0,1407.0 1975.7,1406.9C1977.4,1406.8 1977.0,1389.6 1980.0,1384.6C1982.1,1381.1 1985.9,1377.7 1988.6,1377.7C1991.0,1377.7 1993.6,1383.2 1995.4,1382.9C1996.9,1382.6 1997.9,1377.5 1998.9,1377.7C2001.3,1378.2 2002.2,1410.3 2004.0,1410.3C2005.9,1410.3 2006.2,1383.2 2010.0,1377.7C2011.9,1375.0 2015.0,1372.5 2016.9,1373.4C2022.4,1376.2 2020.3,1442.9 2022.0,1442.9C2023.5,1442.9 2022.9,1399.7 2026.3,1388.0C2028.1,1382.0 2030.5,1378.0 2033.2,1375.1C2035.2,1372.9 2037.8,1370.5 2040.0,1370.9C2042.9,1371.4 2045.9,1381.1 2048.6,1381.1C2051.0,1381.1 2053.4,1372.5 2055.4,1372.6C2057.3,1372.7 2058.5,1380.9 2060.6,1381.1C2063.0,1381.3 2067.1,1371.1 2069.2,1371.7C2071.8,1372.4 2071.6,1390.5 2073.4,1390.6C2075.1,1390.7 2076.7,1378.0 2079.4,1374.3C2081.3,1371.7 2084.5,1368.3 2086.3,1369.1C2090.4,1370.9 2089.1,1399.7 2090.5,1415.0" stroke="#747474"/>
</g>
<text x="161.8" y="199.5" font-size="57">330 °C</text>
<text x="163.8" y="339.5" font-size="57">300 °C</text>
<text x="163.3" y="496" font-size="57">270 °C</text>
<text x="163.6" y="645.3" font-size="57">240 °C</text>
<text x="163.3" y="794.3" font-size="57">210 °C</text>
<text x="162.4" y="931.5" font-size="57">180 °C</text>
<text x="163.3" y="1076.2" font-size="57">150 °C</text>
<text x="166.1" y="1222" font-size="57">EEPN/DDS uncured</text>
<text x="167.0" y="1362.5" font-size="57">EEPN uncured</text>
<g fill="#000">
<rect x="152" y="117" width="1943" height="8"/>
<rect x="153" y="117" width="7" height="1460"/>
<rect x="153" y="1546" width="1942" height="6"/>
<rect x="2087" y="117" width="8" height="1436"/>
<rect x="422.2" y="1546" width="6" height="31"/>
<rect x="690.9" y="1546" width="6" height="31"/>
<rect x="959.5" y="1546" width="6" height="31"/>
<rect x="1228.2" y="1546" width="6" height="31"/>
<rect x="1496.9" y="1546" width="6" height="31"/>
<rect x="1765.6" y="1546" width="6" height="31"/>
<rect x="2034.3" y="1546" width="6" height="31"/>
<rect x="287.8" y="1546" width="6" height="17"/>
<rect x="556.5" y="1546" width="6" height="17"/>
<rect x="825.2" y="1546" width="6" height="17"/>
<rect x="1093.9" y="1546" width="6" height="17"/>
<rect x="1362.6" y="1546" width="6" height="17"/>
<rect x="1631.2" y="1546" width="6" height="17"/>
<rect x="1899.9" y="1546" width="6" height="17"/>
</g>
<g fill="none" stroke-width="6">
<line x1="441" y1="127" x2="443" y2="1550" stroke="#ff0000" stroke-dasharray="13 8.68"/>
<line x1="492" y1="129" x2="494" y2="1550" stroke="#00a0ff" stroke-dasharray="13.5 8.18"/>
<line x1="1107" y1="127" x2="1109" y2="1550" stroke="#d3d3d3" stroke-dasharray="13 8.68"/>
<line x1="1356" y1="127" x2="1358" y2="1550" stroke="#ff0000" stroke-dasharray="13 8.68"/>
<line x1="1386" y1="129" x2="1388" y2="1550" stroke="#00a0ff" stroke-dasharray="13.5 8.18"/>
<line x1="1416" y1="127" x2="1418" y2="1550" stroke="#ff0000" stroke-dasharray="13 8.68"/>
<line x1="1853" y1="127" x2="1855" y2="1550" stroke="#ff0000" stroke-dasharray="13 8.68"/>
</g>
<g font-size="55" text-anchor="middle">
<text x="158.0" y="1637.6">4000</text>
<text x="425.2" y="1637.6">3500</text>
<text x="693.9" y="1637.6">3000</text>
<text x="962.5" y="1637.6">2500</text>
<text x="1231.2" y="1637.6">2000</text>
<text x="1499.9" y="1637.6">1500</text>
<text x="1768.6" y="1637.6">1000</text>
<text x="2037.3" y="1637.6">500</text>
</g>
<text x="350.8" y="116.5" font-size="57.5">3456</text>
<text x="470.8" y="116.5" font-size="57.5">3375</text>
<text x="1063.6" y="116.5" font-size="57.5">2228</text>
<text x="1340.1" y="60.5" font-size="57.5">1707</text>
<text x="1281.2" y="116.5" font-size="57.5">1765</text>
<text x="1400.8" y="116.5" font-size="57.5">1656</text>
<text x="1821.1" y="116.5" font-size="57.5">913</text>
<text x="831.2" y="1751" font-size="67.5">Wavenumber</text>
<text x="1238.2" y="1751" font-size="66.5">(cm</text>
<text transform="translate(1343.5,1725.2) scale(1.1,1)" x="0" y="0" font-size="47">−</text>
<text x="1370.1" y="1724" font-size="47">1</text>
<text x="1391.8" y="1751" font-size="67">)</text>
<text transform="translate(66,1105.8) rotate(-90)" x="0" y="0" font-size="66.5">Transmittance (%)</text>
</svg></body></html>
